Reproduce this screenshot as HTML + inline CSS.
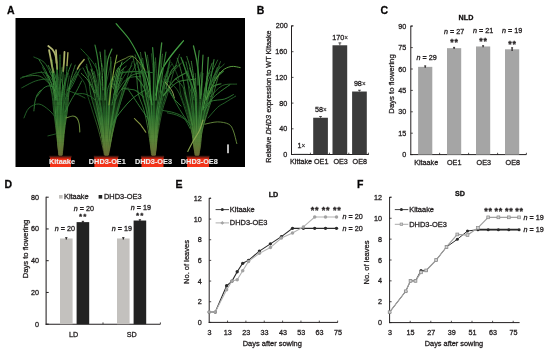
<!DOCTYPE html>
<html><head><meta charset="utf-8"><style>
html,body{margin:0;padding:0;background:#fff;}
body{width:550px;height:351px;overflow:hidden;}
svg{display:block;font-family:"Liberation Sans", sans-serif;filter:blur(0.35px);}
text{stroke:#231f20;stroke-width:0.3px;}
</style></head><body>
<svg width="550" height="351" viewBox="0 0 550 351">
<text x="7.00" y="13.60" font-size="10.5" text-anchor="start" font-weight="bold" fill="#000">A</text>
<text x="256.80" y="13.60" font-size="10.5" text-anchor="start" font-weight="bold" fill="#000">B</text>
<text x="380.60" y="14.00" font-size="10.5" text-anchor="start" font-weight="bold" fill="#000">C</text>
<text x="4.60" y="187.60" font-size="10.5" text-anchor="start" font-weight="bold" fill="#000">D</text>
<text x="175.60" y="187.60" font-size="10.5" text-anchor="start" font-weight="bold" fill="#000">E</text>
<text x="357.00" y="187.60" font-size="10.5" text-anchor="start" font-weight="bold" fill="#000">F</text>
<rect x="15.50" y="18.00" width="229.50" height="149.00" fill="#000"/>
<defs><linearGradient id="cg0" x1="0" y1="156" x2="0" y2="96" gradientUnits="userSpaceOnUse"><stop offset="0" stop-color="#6a6a34"/><stop offset="0.3" stop-color="#5a8a3a"/><stop offset="0.7" stop-color="#2c762f"/><stop offset="1" stop-color="#2c762f"/></linearGradient><linearGradient id="cg1" x1="0" y1="156" x2="0" y2="96" gradientUnits="userSpaceOnUse"><stop offset="0" stop-color="#6a6a34"/><stop offset="0.3" stop-color="#5a8a3a"/><stop offset="0.7" stop-color="#368237"/><stop offset="1" stop-color="#368237"/></linearGradient><linearGradient id="cg2" x1="0" y1="156" x2="0" y2="96" gradientUnits="userSpaceOnUse"><stop offset="0" stop-color="#6a6a34"/><stop offset="0.3" stop-color="#5a8a3a"/><stop offset="0.7" stop-color="#256629"/><stop offset="1" stop-color="#256629"/></linearGradient><linearGradient id="cg3" x1="0" y1="156" x2="0" y2="96" gradientUnits="userSpaceOnUse"><stop offset="0" stop-color="#6a6a34"/><stop offset="0.3" stop-color="#5a8a3a"/><stop offset="0.7" stop-color="#42903f"/><stop offset="1" stop-color="#42903f"/></linearGradient><linearGradient id="pg" x1="0" y1="46" x2="0" y2="74" gradientUnits="userSpaceOnUse"><stop offset="0" stop-color="#b8bb78"/><stop offset="0.6" stop-color="#a3ad60"/><stop offset="1" stop-color="#6f9444"/></linearGradient><linearGradient id="vg" x1="0" y1="156" x2="0" y2="85" gradientUnits="userSpaceOnUse"><stop offset="0" stop-color="#3e5a26" stop-opacity="0.95"/><stop offset="0.5" stop-color="#2a6428" stop-opacity="0.9"/><stop offset="1" stop-color="#17461a" stop-opacity="0"/></linearGradient><filter id="pb" x="0" y="0" width="1" height="1"><feGaussianBlur stdDeviation="0.35"/></filter></defs><g filter="url(#pb)"><path d="M59.1,156.0 L58.0,146.0 L56.6,130.0 L54.4,110.0 L52.4,90.0 L50.3,75.0 L70.7,75.0 L68.6,90.0 L66.6,110.0 L64.4,130.0 L63.0,146.0 L61.9,156.0 Z" fill="url(#vg)"/>
<path d="M105.0,156.0 L103.1,146.0 L100.1,130.0 L95.0,110.0 L89.5,90.0 L87.8,75.0 L125.2,75.0 L123.5,90.0 L118.0,110.0 L112.9,130.0 L109.9,146.0 L108.0,156.0 Z" fill="url(#vg)"/>
<path d="M152.1,156.0 L150.8,146.0 L148.8,126.0 L145.4,108.0 L139.9,90.0 L136.5,75.0 L170.5,75.0 L167.1,90.0 L161.6,108.0 L158.2,126.0 L156.2,146.0 L154.9,156.0 Z" fill="url(#vg)"/>
<path d="M195.5,156.0 L193.9,146.0 L191.6,126.0 L186.4,108.0 L180.8,90.0 L179.2,75.0 L214.8,75.0 L213.2,90.0 L207.6,108.0 L202.4,126.0 L200.1,146.0 L198.5,156.0 Z" fill="url(#vg)"/>
<path d="M58.9,155.0 C58.7,153.5 58.3,150.2 57.9,146.0 C57.4,141.8 56.8,136.0 56.1,130.0 C55.4,124.0 54.3,116.0 53.6,110.0 C52.9,104.0 52.7,98.9 51.9,94.0 C51.0,89.1 50.1,85.0 48.6,80.5 C47.0,76.0 43.5,69.2 42.5,67.0" fill="none" stroke="url(#cg0)" stroke-width="0.8339779458270995" stroke-linecap="round" stroke-linejoin="round" opacity="0.92"/>
<path d="M59.0,155.0 C58.9,153.5 58.5,150.2 58.1,146.0 C57.7,141.8 57.2,136.0 56.6,130.0 C55.9,124.0 54.9,116.0 54.3,110.0 C53.6,104.0 53.5,98.6 52.6,94.0 C51.6,89.4 50.6,86.4 48.7,82.6 C46.8,78.8 42.4,73.1 41.1,71.2" fill="none" stroke="url(#cg0)" stroke-width="0.7178653315506565" stroke-linecap="round" stroke-linejoin="round" opacity="0.92"/>
<path d="M59.1,155.0 C58.9,153.5 58.4,150.2 58.1,146.0 C57.7,141.8 57.6,136.0 57.2,130.0 C56.7,124.0 55.8,116.0 55.3,110.0 C54.8,104.0 54.9,98.5 54.2,94.0 C53.5,89.5 52.5,86.8 51.1,83.2 C49.8,79.5 46.8,74.1 45.9,72.3" fill="none" stroke="url(#cg3)" stroke-width="0.8964404917020267" stroke-linecap="round" stroke-linejoin="round" opacity="0.92"/>
<path d="M59.6,155.0 C59.5,153.5 59.5,150.2 59.2,146.0 C58.9,141.8 58.3,136.0 57.8,130.0 C57.4,124.0 56.9,116.0 56.5,110.0 C56.2,104.0 56.1,98.5 55.9,94.0 C55.6,89.5 55.7,86.7 55.1,83.1 C54.5,79.5 52.7,74.0 52.3,72.2" fill="none" stroke="url(#cg0)" stroke-width="0.9539750865643536" stroke-linecap="round" stroke-linejoin="round" opacity="0.92"/>
<path d="M60.1,155.0 C60.0,153.5 59.8,150.2 59.5,146.0 C59.3,141.8 58.8,136.0 58.4,130.0 C58.1,124.0 57.7,116.0 57.5,110.0 C57.3,104.0 57.7,98.5 57.2,94.0 C56.8,89.5 56.1,86.5 54.8,82.8 C53.5,79.0 50.4,73.4 49.5,71.5" fill="none" stroke="url(#cg1)" stroke-width="0.9335532576029952" stroke-linecap="round" stroke-linejoin="round" opacity="0.92"/>
<path d="M59.8,155.0 C59.8,153.5 59.6,150.2 59.6,146.0 C59.6,141.8 59.7,136.0 59.6,130.0 C59.4,124.0 59.0,116.0 58.8,110.0 C58.5,104.0 58.3,98.8 57.9,94.0 C57.5,89.2 56.6,85.3 56.5,81.0 C56.4,76.6 57.2,70.1 57.3,67.9" fill="none" stroke="url(#cg1)" stroke-width="0.9046232325418929" stroke-linecap="round" stroke-linejoin="round" opacity="0.92"/>
<path d="M60.3,155.0 C60.3,153.5 60.4,150.2 60.4,146.0 C60.4,141.8 60.2,136.0 60.1,130.0 C59.9,124.0 59.6,116.0 59.5,110.0 C59.4,104.0 59.6,98.6 59.2,94.0 C58.8,89.4 58.3,86.1 57.2,82.2 C56.1,78.2 53.5,72.3 52.7,70.3" fill="none" stroke="url(#cg2)" stroke-width="0.9993711156059767" stroke-linecap="round" stroke-linejoin="round" opacity="0.92"/>
<path d="M60.3,155.0 C60.4,153.5 60.7,150.2 60.7,146.0 C60.8,141.8 60.5,136.0 60.5,130.0 C60.4,124.0 60.5,116.0 60.4,110.0 C60.3,104.0 60.3,99.0 60.1,94.0 C59.8,89.0 59.3,84.8 58.7,80.2 C58.1,75.6 56.9,68.6 56.5,66.3" fill="none" stroke="url(#cg3)" stroke-width="0.7220195660165272" stroke-linecap="round" stroke-linejoin="round" opacity="0.92"/>
<path d="M60.8,155.0 C60.8,153.5 60.7,150.2 60.8,146.0 C60.8,141.8 61.1,136.0 61.2,130.0 C61.3,124.0 61.4,116.0 61.4,110.0 C61.5,104.0 61.5,97.9 61.7,94.0 C62.0,90.1 62.8,89.1 62.7,86.7 C62.7,84.2 61.7,80.6 61.5,79.3" fill="none" stroke="url(#cg1)" stroke-width="0.7932433863917523" stroke-linecap="round" stroke-linejoin="round" opacity="0.92"/>
<path d="M61.1,155.0 C61.2,153.5 61.5,150.2 61.6,146.0 C61.7,141.8 61.5,136.0 61.7,130.0 C61.9,124.0 62.6,116.0 62.8,110.0 C63.1,104.0 63.1,98.3 63.4,94.0 C63.6,89.7 64.1,87.7 64.3,84.5 C64.6,81.3 64.9,76.6 65.0,75.0" fill="none" stroke="url(#cg0)" stroke-width="0.7311519044094844" stroke-linecap="round" stroke-linejoin="round" opacity="0.92"/>
<path d="M61.5,155.0 C61.5,153.5 61.4,150.2 61.6,146.0 C61.8,141.8 62.3,136.0 62.6,130.0 C62.9,124.0 63.1,116.0 63.4,110.0 C63.7,104.0 64.3,98.4 64.5,94.0 C64.8,89.6 64.4,87.2 65.1,83.8 C65.7,80.4 68.0,75.2 68.5,73.5" fill="none" stroke="url(#cg0)" stroke-width="0.7379200523236311" stroke-linecap="round" stroke-linejoin="round" opacity="0.92"/>
<path d="M61.7,155.0 C61.9,153.5 62.3,150.2 62.5,146.0 C62.8,141.8 62.8,136.0 63.3,130.0 C63.7,124.0 64.5,116.0 65.0,110.0 C65.6,104.0 66.2,98.2 66.7,94.0 C67.1,89.8 67.2,88.0 67.6,85.0 C68.1,82.0 69.0,77.5 69.2,76.0" fill="none" stroke="url(#cg0)" stroke-width="0.7528761326118452" stroke-linecap="round" stroke-linejoin="round" opacity="0.92"/>
<path d="M61.9,155.0 C62.0,153.5 62.3,150.2 62.6,146.0 C63.0,141.8 63.4,136.0 64.0,130.0 C64.6,124.0 65.7,116.0 66.3,110.0 C67.0,104.0 67.0,98.3 67.8,94.0 C68.7,89.7 70.0,87.5 71.5,84.3 C73.0,81.0 75.9,76.1 76.8,74.5" fill="none" stroke="url(#cg0)" stroke-width="0.977076210121574" stroke-linecap="round" stroke-linejoin="round" opacity="0.92"/>
<path d="M62.1,155.0 C62.3,153.5 62.8,150.2 63.2,146.0 C63.6,141.8 63.9,136.0 64.6,130.0 C65.3,124.0 66.7,116.0 67.4,110.0 C68.1,104.0 68.2,99.1 68.8,94.0 C69.4,88.9 69.7,84.4 70.8,79.5 C71.8,74.7 74.5,67.5 75.2,65.1" fill="none" stroke="url(#cg3)" stroke-width="0.8638286077255961" stroke-linecap="round" stroke-linejoin="round" opacity="0.92"/>
<path d="M63.7,98.8 C65.0,95.9 68.4,86.5 71.3,81.5 C74.2,76.4 79.4,70.8 81.0,68.7" fill="none" stroke="#245f28" stroke-width="0.7339707275782404" stroke-linecap="round" stroke-linejoin="round" opacity="0.9"/>
<path d="M60.1,88.9 C60.2,87.1 60.6,81.2 61.0,77.7 C61.3,74.1 61.9,69.2 62.1,67.6" fill="none" stroke="#2c742f" stroke-width="0.9499842186637677" stroke-linecap="round" stroke-linejoin="round" opacity="0.9"/>
<path d="M58.8,95.0 C58.0,92.2 55.9,83.2 54.2,78.2 C52.4,73.3 49.2,67.5 48.2,65.4" fill="none" stroke="#3e8a3c" stroke-width="0.9912828306262191" stroke-linecap="round" stroke-linejoin="round" opacity="0.9"/>
<path d="M58.9,96.8 C58.4,93.6 57.1,82.9 55.9,77.7 C54.7,72.5 52.6,67.7 52.0,65.8" fill="none" stroke="#2c742f" stroke-width="0.8240939962902226" stroke-linecap="round" stroke-linejoin="round" opacity="0.9"/>
<path d="M54.0,88.3 C51.6,86.3 44.9,78.1 39.6,76.2 C34.4,74.3 25.5,76.8 22.6,76.9" fill="none" stroke="#3e8a3c" stroke-width="0.8023320880425526" stroke-linecap="round" stroke-linejoin="round" opacity="0.9"/>
<path d="M104.3,155.0 C104.0,153.5 103.4,150.2 102.4,146.0 C101.5,141.8 100.2,136.0 98.5,130.0 C96.8,124.0 94.1,116.0 92.2,110.0 C90.3,104.0 88.5,98.5 87.2,94.0 C85.9,89.5 86.2,86.7 84.5,83.1 C82.7,79.5 77.8,74.0 76.5,72.2" fill="none" stroke="url(#cg2)" stroke-width="0.7595517336595947" stroke-linecap="round" stroke-linejoin="round" opacity="0.92"/>
<path d="M105.0,155.0 C104.7,153.5 104.1,150.2 103.3,146.0 C102.6,141.8 101.7,136.0 100.3,130.0 C98.9,124.0 96.6,116.0 94.9,110.0 C93.3,104.0 91.6,99.1 90.6,94.0 C89.6,88.9 89.5,84.1 88.9,79.1 C88.2,74.2 87.0,66.8 86.6,64.3" fill="none" stroke="url(#cg0)" stroke-width="0.9133653284552821" stroke-linecap="round" stroke-linejoin="round" opacity="0.92"/>
<path d="M105.1,155.0 C104.8,153.5 104.3,150.2 103.7,146.0 C103.2,141.8 102.7,136.0 101.7,130.0 C100.7,124.0 98.9,116.0 97.7,110.0 C96.5,104.0 95.4,99.0 94.3,94.0 C93.3,89.0 93.0,84.8 91.6,80.3 C90.2,75.7 87.0,68.8 86.0,66.5" fill="none" stroke="url(#cg3)" stroke-width="0.7961038643300813" stroke-linecap="round" stroke-linejoin="round" opacity="0.92"/>
<path d="M105.3,155.0 C105.1,153.5 104.8,150.2 104.4,146.0 C103.9,141.8 103.4,136.0 102.5,130.0 C101.6,124.0 100.0,116.0 98.9,110.0 C97.9,104.0 96.9,98.5 96.1,94.0 C95.3,89.5 95.3,86.6 94.2,83.0 C93.1,79.3 90.3,73.8 89.5,71.9" fill="none" stroke="url(#cg1)" stroke-width="0.7074179524985249" stroke-linecap="round" stroke-linejoin="round" opacity="0.92"/>
<path d="M105.5,155.0 C105.3,153.5 104.9,150.2 104.5,146.0 C104.1,141.8 103.6,136.0 102.9,130.0 C102.3,124.0 101.4,116.0 100.6,110.0 C99.9,104.0 98.9,98.5 98.2,94.0 C97.6,89.5 97.6,86.5 96.9,82.7 C96.2,79.0 94.6,73.4 94.1,71.5" fill="none" stroke="url(#cg1)" stroke-width="0.7598024267491053" stroke-linecap="round" stroke-linejoin="round" opacity="0.92"/>
<path d="M105.5,155.0 C105.4,153.5 105.0,150.2 104.6,146.0 C104.3,141.8 104.1,136.0 103.5,130.0 C103.0,124.0 102.1,116.0 101.3,110.0 C100.5,104.0 99.4,99.2 98.9,94.0 C98.4,88.8 98.7,83.8 98.1,78.6 C97.6,73.5 96.0,65.8 95.6,63.3" fill="none" stroke="url(#cg1)" stroke-width="0.8180548634724956" stroke-linecap="round" stroke-linejoin="round" opacity="0.92"/>
<path d="M106.3,155.0 C106.1,153.5 105.6,150.2 105.4,146.0 C105.2,141.8 105.4,136.0 105.1,130.0 C104.8,124.0 104.1,116.0 103.6,110.0 C103.1,104.0 102.4,98.9 102.1,94.0 C101.8,89.1 102.5,85.1 102.0,80.7 C101.4,76.3 99.5,69.6 99.0,67.4" fill="none" stroke="url(#cg2)" stroke-width="0.8391123197819306" stroke-linecap="round" stroke-linejoin="round" opacity="0.92"/>
<path d="M106.0,155.0 C106.0,153.5 106.1,150.2 106.1,146.0 C106.0,141.8 105.9,136.0 105.6,130.0 C105.4,124.0 105.0,116.0 104.7,110.0 C104.4,104.0 103.6,99.3 104.0,94.0 C104.5,88.7 106.3,83.3 107.5,78.0 C108.7,72.6 110.6,64.6 111.3,61.9" fill="none" stroke="url(#cg2)" stroke-width="0.7785649461522468" stroke-linecap="round" stroke-linejoin="round" opacity="0.92"/>
<path d="M106.2,155.0 C106.2,153.5 106.5,150.2 106.4,146.0 C106.4,141.8 106.2,136.0 106.1,130.0 C106.1,124.0 106.2,116.0 106.2,110.0 C106.2,104.0 106.3,99.2 106.2,94.0 C106.1,88.8 106.2,83.8 105.4,78.7 C104.7,73.6 102.4,65.9 101.7,63.3" fill="none" stroke="url(#cg0)" stroke-width="0.7518688921625658" stroke-linecap="round" stroke-linejoin="round" opacity="0.92"/>
<path d="M106.7,155.0 C106.7,153.5 106.4,150.2 106.4,146.0 C106.3,141.8 106.4,136.0 106.5,130.0 C106.5,124.0 106.7,116.0 106.8,110.0 C106.9,104.0 106.7,98.1 107.1,94.0 C107.5,89.9 107.9,88.1 109.0,85.2 C110.1,82.2 113.1,77.8 113.9,76.3" fill="none" stroke="url(#cg0)" stroke-width="0.9273517524184602" stroke-linecap="round" stroke-linejoin="round" opacity="0.92"/>
<path d="M106.9,155.0 C106.9,153.5 107.2,150.2 107.3,146.0 C107.5,141.8 107.5,136.0 107.7,130.0 C107.9,124.0 108.1,116.0 108.4,110.0 C108.7,104.0 109.1,98.0 109.4,94.0 C109.7,90.0 109.8,88.6 110.2,85.9 C110.6,83.2 111.7,79.2 112.0,77.9" fill="none" stroke="url(#cg1)" stroke-width="0.7913368072750521" stroke-linecap="round" stroke-linejoin="round" opacity="0.92"/>
<path d="M107.0,155.0 C107.0,153.5 107.0,150.2 107.2,146.0 C107.4,141.8 107.7,136.0 108.1,130.0 C108.4,124.0 108.9,116.0 109.3,110.0 C109.7,104.0 109.9,99.7 110.2,94.0 C110.5,88.3 110.9,81.7 111.0,75.6 C111.0,69.4 110.8,60.2 110.7,57.1" fill="none" stroke="url(#cg3)" stroke-width="0.8631990249478859" stroke-linecap="round" stroke-linejoin="round" opacity="0.92"/>
<path d="M107.3,155.0 C107.4,153.5 107.7,150.2 108.2,146.0 C108.6,141.8 109.1,136.0 109.9,130.0 C110.8,124.0 112.4,116.0 113.3,110.0 C114.2,104.0 114.8,98.0 115.5,94.0 C116.3,90.0 116.7,88.7 117.8,86.1 C118.8,83.5 121.0,79.5 121.7,78.2" fill="none" stroke="url(#cg3)" stroke-width="0.7380902767323273" stroke-linecap="round" stroke-linejoin="round" opacity="0.92"/>
<path d="M107.7,155.0 C107.9,153.5 108.3,150.2 108.7,146.0 C109.1,141.8 109.4,136.0 110.2,130.0 C110.9,124.0 112.1,116.0 113.0,110.0 C113.9,104.0 114.7,98.6 115.5,94.0 C116.2,89.4 116.0,86.4 117.5,82.6 C118.9,78.8 123.0,73.1 124.1,71.2" fill="none" stroke="url(#cg0)" stroke-width="0.710687456713855" stroke-linecap="round" stroke-linejoin="round" opacity="0.92"/>
<path d="M107.3,155.0 C107.5,153.5 108.0,150.2 108.6,146.0 C109.1,141.8 109.9,136.0 110.8,130.0 C111.6,124.0 112.8,116.0 113.8,110.0 C114.8,104.0 115.8,98.8 116.8,94.0 C117.8,89.2 118.6,85.5 119.7,81.2 C120.8,77.0 122.9,70.6 123.5,68.5" fill="none" stroke="url(#cg1)" stroke-width="0.9104102683000681" stroke-linecap="round" stroke-linejoin="round" opacity="0.92"/>
<path d="M107.8,155.0 C108.2,153.5 109.0,150.2 109.8,146.0 C110.6,141.8 111.4,136.0 112.7,130.0 C113.9,124.0 115.9,116.0 117.3,110.0 C118.8,104.0 120.4,98.1 121.5,94.0 C122.6,89.9 122.6,88.3 124.0,85.4 C125.3,82.6 128.4,78.3 129.3,76.9" fill="none" stroke="url(#cg1)" stroke-width="0.7697975179139305" stroke-linecap="round" stroke-linejoin="round" opacity="0.92"/>
<path d="M108.5,155.0 C108.8,153.5 109.5,150.2 110.3,146.0 C111.0,141.8 111.7,136.0 113.0,130.0 C114.4,124.0 116.6,116.0 118.3,110.0 C120.0,104.0 121.5,99.3 123.3,94.0 C125.1,88.7 127.0,83.3 129.3,78.0 C131.6,72.7 135.8,64.7 137.1,62.0" fill="none" stroke="url(#cg1)" stroke-width="0.7397624650446545" stroke-linecap="round" stroke-linejoin="round" opacity="0.92"/>
<path d="M108.2,155.0 C108.5,153.5 109.1,150.2 109.9,146.0 C110.8,141.8 111.9,136.0 113.3,130.0 C114.7,124.0 116.7,116.0 118.3,110.0 C119.9,104.0 121.4,99.4 122.9,94.0 C124.4,88.6 125.7,83.2 127.2,77.8 C128.8,72.4 131.5,64.3 132.3,61.6" fill="none" stroke="url(#cg2)" stroke-width="0.9734118919543342" stroke-linecap="round" stroke-linejoin="round" opacity="0.92"/>
<path d="M121.5,89.4 C123.1,87.2 127.3,79.0 130.7,76.2 C134.1,73.4 140.2,73.2 142.1,72.6" fill="none" stroke="#357f36" stroke-width="1.0211374910788302" stroke-linecap="round" stroke-linejoin="round" opacity="0.9"/>
<path d="M105.9,88.3 C105.9,84.9 106.0,73.6 106.0,68.2 C106.0,62.9 106.1,58.0 106.1,55.9" fill="none" stroke="#2c742f" stroke-width="0.7815656071081508" stroke-linecap="round" stroke-linejoin="round" opacity="0.9"/>
<path d="M115.6,99.9 C116.6,98.2 119.1,91.6 121.2,89.7 C123.3,87.7 127.1,88.4 128.3,88.2" fill="none" stroke="#3e8a3c" stroke-width="0.7310422681710733" stroke-linecap="round" stroke-linejoin="round" opacity="0.9"/>
<path d="M94.2,92.7 C93.2,90.7 90.6,84.1 88.4,80.9 C86.3,77.7 82.4,74.7 81.2,73.4" fill="none" stroke="#4a9442" stroke-width="0.9804120363023211" stroke-linecap="round" stroke-linejoin="round" opacity="0.9"/>
<path d="M117.5,90.2 C118.5,87.9 121.4,80.6 123.8,76.5 C126.2,72.5 130.5,67.6 131.8,65.8" fill="none" stroke="#357f36" stroke-width="0.7379206613080525" stroke-linecap="round" stroke-linejoin="round" opacity="0.9"/>
<path d="M115.6,91.9 C116.3,88.7 118.4,76.9 120.2,72.7 C122.0,68.4 125.2,67.5 126.2,66.4" fill="none" stroke="#3e8a3c" stroke-width="0.9278735834348355" stroke-linecap="round" stroke-linejoin="round" opacity="0.9"/>
<path d="M97.4,95.0 C97.0,92.8 95.7,85.8 94.7,81.5 C93.6,77.2 91.7,71.3 91.1,69.3" fill="none" stroke="#4a9442" stroke-width="1.011195192217937" stroke-linecap="round" stroke-linejoin="round" opacity="0.9"/>
<path d="M116.1,92.9 C117.9,90.5 123.0,81.4 127.1,78.7 C131.2,76.0 138.4,76.9 140.7,76.6" fill="none" stroke="#357f36" stroke-width="0.8622982031310462" stroke-linecap="round" stroke-linejoin="round" opacity="0.9"/>
<path d="M113.7,88.8 C114.0,87.0 115.0,81.4 115.8,77.9 C116.6,74.5 118.0,69.6 118.5,68.0" fill="none" stroke="#4a9442" stroke-width="1.0610818494082102" stroke-linecap="round" stroke-linejoin="round" opacity="0.9"/>
<path d="M151.5,155.0 C151.4,153.5 151.0,150.2 150.5,146.0 C149.9,141.8 149.2,136.0 148.2,130.0 C147.1,124.0 145.6,116.0 144.0,110.0 C142.3,104.0 139.6,99.7 138.4,94.0 C137.1,88.3 137.4,81.7 136.5,75.5 C135.6,69.4 133.6,60.2 133.0,57.1" fill="none" stroke="url(#cg1)" stroke-width="0.9103752086749906" stroke-linecap="round" stroke-linejoin="round" opacity="0.92"/>
<path d="M152.4,155.0 C152.1,153.5 151.2,150.2 150.7,146.0 C150.2,141.8 150.3,136.0 149.6,130.0 C148.9,124.0 147.8,116.0 146.5,110.0 C145.2,104.0 143.0,99.2 141.9,94.0 C140.8,88.8 140.6,83.7 139.9,78.6 C139.2,73.5 138.1,65.8 137.7,63.2" fill="none" stroke="url(#cg0)" stroke-width="0.7775672836249041" stroke-linecap="round" stroke-linejoin="round" opacity="0.92"/>
<path d="M152.1,155.0 C151.9,153.5 151.5,150.2 151.1,146.0 C150.7,141.8 150.3,136.0 149.6,130.0 C148.8,124.0 147.7,116.0 146.5,110.0 C145.4,104.0 143.6,99.9 142.5,94.0 C141.4,88.1 141.4,80.9 140.2,74.4 C138.9,67.9 135.9,58.1 135.1,54.8" fill="none" stroke="url(#cg0)" stroke-width="0.815926910780714" stroke-linecap="round" stroke-linejoin="round" opacity="0.92"/>
<path d="M152.5,155.0 C152.4,153.5 152.3,150.2 152.1,146.0 C151.8,141.8 151.6,136.0 151.0,130.0 C150.5,124.0 149.6,116.0 148.7,110.0 C147.8,104.0 146.7,99.2 145.8,94.0 C144.9,88.8 144.4,84.0 143.4,79.0 C142.5,74.0 140.5,66.5 140.0,64.0" fill="none" stroke="url(#cg2)" stroke-width="0.8096725997263372" stroke-linecap="round" stroke-linejoin="round" opacity="0.92"/>
<path d="M152.6,155.0 C152.5,153.5 152.1,150.2 151.8,146.0 C151.5,141.8 151.1,136.0 150.6,130.0 C150.1,124.0 149.6,116.0 148.7,110.0 C147.8,104.0 146.4,100.1 145.5,94.0 C144.5,87.9 144.0,80.1 143.2,73.2 C142.3,66.3 140.9,55.9 140.5,52.4" fill="none" stroke="url(#cg3)" stroke-width="0.7158374359403746" stroke-linecap="round" stroke-linejoin="round" opacity="0.92"/>
<path d="M152.7,155.0 C152.6,153.5 152.4,150.2 152.2,146.0 C152.0,141.8 151.9,136.0 151.5,130.0 C151.0,124.0 150.2,116.0 149.5,110.0 C148.9,104.0 148.2,99.6 147.5,94.0 C146.7,88.4 145.8,82.1 145.0,76.1 C144.2,70.2 143.0,61.2 142.6,58.3" fill="none" stroke="url(#cg0)" stroke-width="0.8570078323002299" stroke-linecap="round" stroke-linejoin="round" opacity="0.92"/>
<path d="M153.3,155.0 C153.2,153.5 152.9,150.2 152.9,146.0 C152.8,141.8 153.0,136.0 152.8,130.0 C152.6,124.0 152.3,116.0 151.9,110.0 C151.6,104.0 151.1,99.9 150.7,94.0 C150.3,88.1 150.3,81.1 149.8,74.6 C149.2,68.1 147.8,58.5 147.4,55.2" fill="none" stroke="url(#cg0)" stroke-width="0.8070091214659059" stroke-linecap="round" stroke-linejoin="round" opacity="0.92"/>
<path d="M153.0,155.0 C152.9,153.5 152.7,150.2 152.5,146.0 C152.4,141.8 152.5,136.0 152.3,130.0 C152.1,124.0 151.8,116.0 151.4,110.0 C151.1,104.0 150.4,98.6 150.2,94.0 C149.9,89.4 150.1,86.4 150.0,82.5 C149.8,78.7 149.2,73.0 149.1,71.1" fill="none" stroke="url(#cg1)" stroke-width="0.9857904977130795" stroke-linecap="round" stroke-linejoin="round" opacity="0.92"/>
<path d="M153.3,155.0 C153.3,153.5 153.2,150.2 153.2,146.0 C153.3,141.8 153.6,136.0 153.7,130.0 C153.7,124.0 153.6,116.0 153.6,110.0 C153.5,104.0 153.3,99.3 153.4,94.0 C153.5,88.7 153.7,83.4 154.0,78.0 C154.3,72.7 154.9,64.7 155.0,62.1" fill="none" stroke="url(#cg2)" stroke-width="0.9260048789667399" stroke-linecap="round" stroke-linejoin="round" opacity="0.92"/>
<path d="M153.3,155.0 C153.4,153.5 153.7,150.2 153.8,146.0 C153.8,141.8 153.7,136.0 153.7,130.0 C153.7,124.0 153.8,116.0 153.7,110.0 C153.6,104.0 153.3,100.0 153.2,94.0 C153.1,88.0 153.5,80.6 153.2,73.9 C152.9,67.1 151.7,57.1 151.4,53.7" fill="none" stroke="url(#cg2)" stroke-width="0.7217478508259091" stroke-linecap="round" stroke-linejoin="round" opacity="0.92"/>
<path d="M153.8,155.0 C153.8,153.5 153.8,150.2 153.8,146.0 C153.9,141.8 154.0,136.0 154.0,130.0 C154.1,124.0 154.1,116.0 154.2,110.0 C154.4,104.0 154.5,99.7 154.8,94.0 C155.1,88.3 156.0,82.0 156.2,75.9 C156.3,69.9 155.6,60.9 155.5,57.9" fill="none" stroke="url(#cg0)" stroke-width="0.8341928678956247" stroke-linecap="round" stroke-linejoin="round" opacity="0.92"/>
<path d="M154.3,155.0 C154.4,153.5 154.6,150.2 154.8,146.0 C154.9,141.8 154.9,136.0 155.2,130.0 C155.5,124.0 156.2,116.0 156.7,110.0 C157.3,104.0 157.9,99.8 158.4,94.0 C158.9,88.2 159.4,81.4 159.8,75.1 C160.2,68.8 160.6,59.4 160.8,56.2" fill="none" stroke="url(#cg2)" stroke-width="0.8645840415931905" stroke-linecap="round" stroke-linejoin="round" opacity="0.92"/>
<path d="M154.5,155.0 C154.6,153.5 154.7,150.2 154.9,146.0 C155.0,141.8 155.2,136.0 155.6,130.0 C156.0,124.0 156.5,116.0 157.2,110.0 C158.0,104.0 159.5,100.0 160.1,94.0 C160.7,88.0 160.7,80.7 161.0,74.1 C161.4,67.5 162.1,57.5 162.4,54.2" fill="none" stroke="url(#cg3)" stroke-width="0.7896612021852201" stroke-linecap="round" stroke-linejoin="round" opacity="0.92"/>
<path d="M154.2,155.0 C154.4,153.5 154.7,150.2 155.1,146.0 C155.5,141.8 155.9,136.0 156.4,130.0 C156.9,124.0 157.4,116.0 158.3,110.0 C159.1,104.0 160.6,98.5 161.5,94.0 C162.3,89.5 162.5,86.8 163.6,83.1 C164.6,79.5 166.9,74.1 167.6,72.3" fill="none" stroke="url(#cg2)" stroke-width="0.8971789495482496" stroke-linecap="round" stroke-linejoin="round" opacity="0.92"/>
<path d="M154.8,155.0 C154.8,153.5 155.0,150.2 155.3,146.0 C155.5,141.8 155.8,136.0 156.4,130.0 C157.0,124.0 157.9,116.0 158.8,110.0 C159.8,104.0 161.4,98.6 162.2,94.0 C163.0,89.4 162.9,86.4 163.8,82.6 C164.8,78.8 167.5,73.1 168.2,71.2" fill="none" stroke="url(#cg3)" stroke-width="0.7952857730266751" stroke-linecap="round" stroke-linejoin="round" opacity="0.92"/>
<path d="M155.0,155.0 C155.2,153.5 155.7,150.2 156.0,146.0 C156.3,141.8 156.3,136.0 156.9,130.0 C157.6,124.0 158.7,116.0 159.8,110.0 C161.0,104.0 162.7,99.3 163.7,94.0 C164.7,88.7 164.8,83.4 165.8,78.1 C166.7,72.8 168.7,64.8 169.3,62.2" fill="none" stroke="url(#cg2)" stroke-width="0.9391248465856445" stroke-linecap="round" stroke-linejoin="round" opacity="0.92"/>
<path d="M155.2,155.0 C155.4,153.5 155.8,150.2 156.2,146.0 C156.6,141.8 156.7,136.0 157.6,130.0 C158.4,124.0 159.9,116.0 161.3,110.0 C162.7,104.0 165.0,99.5 166.0,94.0 C167.1,88.5 166.7,82.6 167.4,76.9 C168.1,71.3 169.5,62.7 170.0,59.9" fill="none" stroke="url(#cg2)" stroke-width="0.9899248160921191" stroke-linecap="round" stroke-linejoin="round" opacity="0.92"/>
<path d="M155.4,155.0 C155.6,153.5 155.9,150.2 156.4,146.0 C156.9,141.8 157.4,136.0 158.5,130.0 C159.5,124.0 161.0,116.0 162.5,110.0 C164.0,104.0 165.8,100.0 167.5,94.0 C169.2,88.0 170.9,80.8 172.9,74.1 C174.9,67.5 178.4,57.6 179.5,54.3" fill="none" stroke="url(#cg1)" stroke-width="0.7292348259965885" stroke-linecap="round" stroke-linejoin="round" opacity="0.92"/>
<path d="M161.0,93.1 C162.5,90.1 166.6,80.1 170.0,75.1 C173.3,70.1 179.4,65.2 181.3,63.3" fill="none" stroke="#3e8a3c" stroke-width="0.8577530305100692" stroke-linecap="round" stroke-linejoin="round" opacity="0.9"/>
<path d="M150.2,99.6 C149.6,97.0 147.9,88.5 146.5,83.7 C145.1,78.8 142.5,72.6 141.7,70.4" fill="none" stroke="#4a9442" stroke-width="0.9472633448689486" stroke-linecap="round" stroke-linejoin="round" opacity="0.9"/>
<path d="M143.7,97.1 C142.3,95.9 138.2,91.6 135.1,90.2 C131.9,88.9 126.6,89.1 124.9,88.9" fill="none" stroke="#2c742f" stroke-width="1.0554587735672558" stroke-linecap="round" stroke-linejoin="round" opacity="0.9"/>
<path d="M163.7,95.7 C165.5,93.1 170.4,83.9 174.4,79.9 C178.4,76.0 185.5,73.3 187.7,71.9" fill="none" stroke="#3e8a3c" stroke-width="1.0662249807899875" stroke-linecap="round" stroke-linejoin="round" opacity="0.9"/>
<path d="M147.0,89.9 C146.3,87.7 144.5,80.2 142.9,76.3 C141.4,72.5 138.5,68.6 137.7,67.0" fill="none" stroke="#2f7431" stroke-width="0.8168097504199745" stroke-linecap="round" stroke-linejoin="round" opacity="0.9"/>
<path d="M165.8,88.7 C166.6,85.9 168.8,75.9 170.7,71.9 C172.6,68.0 175.9,66.3 177.0,65.1" fill="none" stroke="#357f36" stroke-width="1.0648782314728038" stroke-linecap="round" stroke-linejoin="round" opacity="0.9"/>
<path d="M160.2,88.2 C161.0,86.0 163.3,79.0 165.2,75.0 C167.1,71.0 170.6,66.2 171.6,64.4" fill="none" stroke="#245f28" stroke-width="0.7869457351814232" stroke-linecap="round" stroke-linejoin="round" opacity="0.9"/>
<path d="M147.7,96.6 C146.9,94.6 144.5,88.2 142.5,84.9 C140.6,81.5 137.0,77.8 135.9,76.4" fill="none" stroke="#357f36" stroke-width="1.0642712824270246" stroke-linecap="round" stroke-linejoin="round" opacity="0.9"/>
<path d="M163.3,95.5 C165.7,93.3 172.3,84.8 177.5,82.1 C182.7,79.4 191.7,79.6 194.5,79.2" fill="none" stroke="#3e8a3c" stroke-width="1.0657012014260787" stroke-linecap="round" stroke-linejoin="round" opacity="0.9"/>
<path d="M195.1,155.0 C194.9,153.5 194.4,150.2 193.7,146.0 C193.1,141.8 192.8,136.0 191.3,130.0 C189.9,124.0 187.2,116.0 185.3,110.0 C183.3,104.0 181.3,97.9 179.5,94.0 C177.7,90.1 176.7,88.9 174.4,86.4 C172.1,83.9 167.0,80.1 165.6,78.8" fill="none" stroke="url(#cg2)" stroke-width="0.9363034903785117" stroke-linecap="round" stroke-linejoin="round" opacity="0.92"/>
<path d="M195.4,155.0 C195.2,153.5 194.5,150.2 193.9,146.0 C193.3,141.8 193.2,136.0 191.9,130.0 C190.7,124.0 188.2,116.0 186.4,110.0 C184.5,104.0 182.1,99.3 180.8,94.0 C179.5,88.7 180.0,83.6 178.5,78.3 C176.9,73.1 172.9,65.3 171.7,62.7" fill="none" stroke="url(#cg2)" stroke-width="0.743421692235969" stroke-linecap="round" stroke-linejoin="round" opacity="0.92"/>
<path d="M195.9,155.0 C195.7,153.5 194.9,150.2 194.4,146.0 C194.0,141.8 194.2,136.0 193.4,130.0 C192.6,124.0 190.7,116.0 189.4,110.0 C188.1,104.0 186.8,99.6 185.6,94.0 C184.4,88.4 183.8,82.1 182.4,76.1 C181.0,70.1 178.2,61.2 177.3,58.2" fill="none" stroke="url(#cg1)" stroke-width="0.9466265196988323" stroke-linecap="round" stroke-linejoin="round" opacity="0.92"/>
<path d="M195.5,155.0 C195.3,153.5 195.1,150.2 194.6,146.0 C194.2,141.8 193.7,136.0 192.8,130.0 C191.8,124.0 190.1,116.0 188.8,110.0 C187.5,104.0 185.8,97.9 184.8,94.0 C183.8,90.1 184.1,89.0 182.7,86.5 C181.2,84.0 177.2,80.2 176.1,79.0" fill="none" stroke="url(#cg1)" stroke-width="0.8250911500895107" stroke-linecap="round" stroke-linejoin="round" opacity="0.92"/>
<path d="M195.9,155.0 C195.9,153.5 195.9,150.2 195.7,146.0 C195.4,141.8 195.0,136.0 194.4,130.0 C193.8,124.0 192.8,116.0 192.0,110.0 C191.2,104.0 190.4,99.4 189.6,94.0 C188.7,88.6 188.1,82.9 187.0,77.3 C185.9,71.7 183.5,63.4 182.8,60.6" fill="none" stroke="url(#cg0)" stroke-width="0.8669172115006328" stroke-linecap="round" stroke-linejoin="round" opacity="0.92"/>
<path d="M196.5,155.0 C196.4,153.5 195.9,150.2 195.7,146.0 C195.4,141.8 195.4,136.0 195.0,130.0 C194.6,124.0 193.8,116.0 193.3,110.0 C192.8,104.0 192.3,98.5 191.9,94.0 C191.5,89.5 191.9,86.8 191.0,83.3 C190.2,79.7 187.4,74.3 186.7,72.5" fill="none" stroke="url(#cg3)" stroke-width="0.7037044566802955" stroke-linecap="round" stroke-linejoin="round" opacity="0.92"/>
<path d="M196.5,155.0 C196.4,153.5 196.0,150.2 195.8,146.0 C195.5,141.8 195.7,136.0 195.3,130.0 C194.9,124.0 194.0,116.0 193.4,110.0 C192.7,104.0 192.1,97.8 191.4,94.0 C190.7,90.2 190.0,89.3 189.3,86.9 C188.6,84.5 187.7,81.0 187.4,79.8" fill="none" stroke="url(#cg2)" stroke-width="0.8883315616309391" stroke-linecap="round" stroke-linejoin="round" opacity="0.92"/>
<path d="M197.0,155.0 C197.0,153.5 197.0,150.2 197.0,146.0 C196.9,141.8 196.8,136.0 196.7,130.0 C196.5,124.0 196.3,116.0 196.0,110.0 C195.8,104.0 195.7,99.4 195.3,94.0 C194.9,88.6 194.4,83.1 193.7,77.7 C193.1,72.2 191.7,64.1 191.3,61.3" fill="none" stroke="url(#cg3)" stroke-width="0.9171376130886217" stroke-linecap="round" stroke-linejoin="round" opacity="0.92"/>
<path d="M197.0,155.0 C196.9,153.5 196.6,150.2 196.4,146.0 C196.3,141.8 196.4,136.0 196.3,130.0 C196.2,124.0 195.8,116.0 195.7,110.0 C195.6,104.0 195.5,98.4 195.6,94.0 C195.6,89.6 196.1,87.1 196.0,83.6 C196.0,80.2 195.4,75.0 195.2,73.3" fill="none" stroke="url(#cg0)" stroke-width="0.7301296455262221" stroke-linecap="round" stroke-linejoin="round" opacity="0.92"/>
<path d="M197.2,155.0 C197.2,153.5 196.9,150.2 196.8,146.0 C196.8,141.8 197.0,136.0 197.0,130.0 C196.9,124.0 196.6,116.0 196.5,110.0 C196.5,104.0 196.8,98.0 196.6,94.0 C196.4,90.0 195.5,88.8 195.3,86.2 C195.1,83.5 195.5,79.6 195.5,78.3" fill="none" stroke="url(#cg3)" stroke-width="0.7994231535225912" stroke-linecap="round" stroke-linejoin="round" opacity="0.92"/>
<path d="M197.0,155.0 C197.1,153.5 197.3,150.2 197.5,146.0 C197.6,141.8 197.7,136.0 198.0,130.0 C198.3,124.0 198.8,116.0 199.1,110.0 C199.4,104.0 199.8,98.5 199.8,94.0 C199.9,89.5 199.3,86.7 199.5,83.1 C199.7,79.5 200.8,74.0 201.1,72.2" fill="none" stroke="url(#cg2)" stroke-width="0.7920334234477333" stroke-linecap="round" stroke-linejoin="round" opacity="0.92"/>
<path d="M197.6,155.0 C197.6,153.5 197.6,150.2 197.8,146.0 C197.9,141.8 198.1,136.0 198.4,130.0 C198.8,124.0 199.5,116.0 200.0,110.0 C200.5,104.0 201.1,98.4 201.5,94.0 C201.8,89.6 202.0,87.1 202.2,83.7 C202.5,80.3 202.8,75.1 202.9,73.4" fill="none" stroke="url(#cg1)" stroke-width="0.8057682825893453" stroke-linecap="round" stroke-linejoin="round" opacity="0.92"/>
<path d="M197.6,155.0 C197.7,153.5 198.2,150.2 198.5,146.0 C198.9,141.8 199.0,136.0 199.5,130.0 C200.1,124.0 200.9,116.0 201.6,110.0 C202.4,104.0 203.3,98.1 204.0,94.0 C204.7,89.9 205.3,88.1 205.8,85.1 C206.3,82.1 206.8,77.7 207.0,76.2" fill="none" stroke="url(#cg1)" stroke-width="0.9329842993987463" stroke-linecap="round" stroke-linejoin="round" opacity="0.92"/>
<path d="M197.8,155.0 C198.0,153.5 198.3,150.2 198.5,146.0 C198.8,141.8 198.8,136.0 199.4,130.0 C200.0,124.0 201.0,116.0 201.9,110.0 C202.8,104.0 204.0,99.2 204.8,94.0 C205.7,88.8 205.9,83.7 207.1,78.6 C208.3,73.4 211.3,65.7 212.2,63.1" fill="none" stroke="url(#cg1)" stroke-width="0.9712171984523332" stroke-linecap="round" stroke-linejoin="round" opacity="0.92"/>
<path d="M198.3,155.0 C198.4,153.5 198.9,150.2 199.3,146.0 C199.6,141.8 199.6,136.0 200.4,130.0 C201.3,124.0 203.3,116.0 204.6,110.0 C205.9,104.0 207.3,98.2 208.2,94.0 C209.1,89.8 208.7,87.9 210.1,84.9 C211.4,81.9 215.5,77.3 216.6,75.8" fill="none" stroke="url(#cg2)" stroke-width="0.9055215945027951" stroke-linecap="round" stroke-linejoin="round" opacity="0.92"/>
<path d="M198.5,155.0 C198.7,153.5 199.1,150.2 199.4,146.0 C199.8,141.8 199.9,136.0 200.8,130.0 C201.8,124.0 203.9,116.0 205.3,110.0 C206.8,104.0 208.3,98.9 209.5,94.0 C210.7,89.1 211.0,85.2 212.3,80.7 C213.6,76.3 216.5,69.7 217.3,67.5" fill="none" stroke="url(#cg1)" stroke-width="0.7922948898884028" stroke-linecap="round" stroke-linejoin="round" opacity="0.92"/>
<path d="M198.9,155.0 C199.1,153.5 199.5,150.2 200.1,146.0 C200.6,141.8 200.8,136.0 202.1,130.0 C203.3,124.0 205.8,116.0 207.5,110.0 C209.1,104.0 210.8,99.4 212.0,94.0 C213.1,88.6 213.0,83.2 214.4,77.8 C215.8,72.4 219.5,64.3 220.5,61.6" fill="none" stroke="url(#cg3)" stroke-width="0.7521065063839604" stroke-linecap="round" stroke-linejoin="round" opacity="0.92"/>
<path d="M198.7,155.0 C199.0,153.5 199.9,150.2 200.5,146.0 C201.1,141.8 201.1,136.0 202.4,130.0 C203.7,124.0 206.5,116.0 208.3,110.0 C210.2,104.0 212.1,98.5 213.5,94.0 C214.8,89.5 215.4,86.8 216.4,83.2 C217.4,79.6 219.0,74.2 219.5,72.4" fill="none" stroke="url(#cg3)" stroke-width="0.803633583511617" stroke-linecap="round" stroke-linejoin="round" opacity="0.92"/>
<path d="M207.0,99.0 C208.0,96.9 210.9,89.1 213.2,86.6 C215.5,84.1 219.7,84.3 221.0,83.8" fill="none" stroke="#3e8a3c" stroke-width="1.035296624617076" stroke-linecap="round" stroke-linejoin="round" opacity="0.9"/>
<path d="M207.2,92.9 C208.5,89.8 211.9,79.1 214.7,74.3 C217.6,69.5 222.7,65.8 224.3,64.1" fill="none" stroke="#2f7431" stroke-width="0.908270667291357" stroke-linecap="round" stroke-linejoin="round" opacity="0.9"/>
<path d="M194.5,88.3 C194.0,85.5 192.5,76.8 191.2,71.5 C189.9,66.1 187.5,58.9 186.8,56.4" fill="none" stroke="#3e8a3c" stroke-width="0.9390086481628124" stroke-linecap="round" stroke-linejoin="round" opacity="0.9"/>
<path d="M204.4,91.7 C204.8,89.7 205.9,83.0 206.9,79.7 C207.8,76.3 209.5,73.0 210.1,71.7" fill="none" stroke="#2f7431" stroke-width="1.0492203217647205" stroke-linecap="round" stroke-linejoin="round" opacity="0.9"/>
<path d="M210.4,93.7 C211.3,91.1 213.9,82.1 216.1,78.3 C218.3,74.5 222.3,72.3 223.5,71.2" fill="none" stroke="#357f36" stroke-width="1.0519010367048969" stroke-linecap="round" stroke-linejoin="round" opacity="0.9"/>
<path d="M210.2,96.8 C212.2,94.9 217.9,87.7 222.3,85.6 C226.7,83.4 234.3,84.4 236.7,84.1" fill="none" stroke="#357f36" stroke-width="0.7887117017790863" stroke-linecap="round" stroke-linejoin="round" opacity="0.9"/>
<path d="M203.8,94.8 C204.8,91.8 207.5,82.7 209.8,76.9 C212.1,71.1 216.3,62.9 217.6,60.1" fill="none" stroke="#2f7431" stroke-width="0.9303548662393538" stroke-linecap="round" stroke-linejoin="round" opacity="0.9"/>
<path d="M195.6,91.6 C195.2,89.5 194.0,83.0 193.1,79.1 C192.1,75.2 190.3,69.8 189.7,67.9" fill="none" stroke="#3e8a3c" stroke-width="1.0261785195185478" stroke-linecap="round" stroke-linejoin="round" opacity="0.9"/>
<path d="M194.0,92.3 C193.5,90.5 192.2,84.6 191.1,81.3 C190.0,78.1 188.0,74.1 187.4,72.7" fill="none" stroke="#245f28" stroke-width="0.8297404482913552" stroke-linecap="round" stroke-linejoin="round" opacity="0.9"/>
<path d="M33.8,57.0 C35.5,57.9 41.1,59.4 44.0,62.2 C46.9,65.0 49.2,70.4 50.9,74.1 C52.6,77.8 53.3,80.1 54.3,84.4 C55.3,88.7 56.5,97.4 57.0,100.0" fill="none" stroke="#26682b" stroke-width="0.9" stroke-linecap="round" stroke-linejoin="round" opacity="1.0"/>
<path d="M38.9,59.6 C40.0,61.5 43.6,66.6 45.7,70.7 C47.8,74.8 50.2,79.5 51.7,84.4 C53.2,89.3 54.5,97.4 55.0,100.0" fill="none" stroke="#327f35" stroke-width="0.9" stroke-linecap="round" stroke-linejoin="round" opacity="1.0"/>
<path d="M20.1,78.4 C22.1,77.7 28.3,75.1 32.0,74.1 C35.7,73.1 39.4,72.1 42.3,72.4 C45.1,72.7 47.0,73.8 49.1,75.9 C51.2,78.0 54.0,83.5 55.0,85.0" fill="none" stroke="#26682b" stroke-width="0.9" stroke-linecap="round" stroke-linejoin="round" opacity="1.0"/>
<path d="M21.8,87.8 C24.1,86.7 31.2,82.4 35.5,81.0 C39.8,79.6 44.5,78.7 47.4,79.3 C50.2,79.9 51.2,81.8 52.6,84.4 C54.0,87.0 55.4,93.2 56.0,95.0" fill="none" stroke="#26682b" stroke-width="0.9" stroke-linecap="round" stroke-linejoin="round" opacity="1.0"/>
<path d="M37.2,96.3 C38.3,94.9 41.7,89.5 44.0,87.8 C46.3,86.1 48.9,85.4 50.9,86.1 C52.9,86.8 55.1,91.0 56.0,92.0" fill="none" stroke="#327f35" stroke-width="0.9" stroke-linecap="round" stroke-linejoin="round" opacity="1.0"/>
<path d="M71.3,63.9 C70.5,66.2 67.6,73.0 66.2,77.6 C64.8,82.1 63.7,85.8 62.8,91.2 C61.9,96.6 61.3,106.9 61.0,110.0" fill="none" stroke="#327f35" stroke-width="1.0" stroke-linecap="round" stroke-linejoin="round" opacity="1.0"/>
<path d="M79.9,69.0 C78.8,71.6 75.3,79.9 73.0,84.4 C70.7,89.0 67.9,92.0 66.2,96.3 C64.5,100.6 63.5,107.7 63.0,110.0" fill="none" stroke="#26682b" stroke-width="1.0" stroke-linecap="round" stroke-linejoin="round" opacity="1.0"/>
<path d="M81.6,81.0 C80.8,82.7 78.2,88.1 76.5,91.2 C74.8,94.3 73.2,96.3 71.3,99.8 C69.4,103.3 66.0,110.0 65.0,112.0" fill="none" stroke="#327f35" stroke-width="0.9" stroke-linecap="round" stroke-linejoin="round" opacity="1.0"/>
<path d="M40.9,90.0 C40.2,90.8 38.0,93.0 37.0,95.0 C36.0,97.0 35.4,99.3 34.9,102.0 C34.4,104.7 34.1,109.4 33.9,110.9" fill="none" stroke="#327f35" stroke-width="0.9" stroke-linecap="round" stroke-linejoin="round" opacity="1.0"/>
<path d="M24.0,117.9 C24.8,116.2 26.5,110.3 29.0,108.0 C31.5,105.7 35.6,103.7 38.9,104.0 C42.2,104.3 46.0,107.7 48.9,110.0 C51.8,112.3 54.8,116.7 56.0,118.0" fill="none" stroke="#26682b" stroke-width="0.9" stroke-linecap="round" stroke-linejoin="round" opacity="1.0"/>
<path d="M79.8,131.9 C79.7,130.6 79.7,126.3 79.2,124.0 C78.7,121.7 77.9,119.2 76.8,117.9 C75.7,116.6 74.6,116.0 72.8,116.0 C71.0,116.0 67.1,117.7 66.0,118.0" fill="none" stroke="#6a8a3c" stroke-width="1.1" stroke-linecap="round" stroke-linejoin="round" opacity="1.0"/>
<path d="M47.9,135.9 L55.9,133.9" fill="none" stroke="#26682b" stroke-width="0.8" stroke-linecap="round" stroke-linejoin="round" opacity="1.0"/>
<path d="M66.9,90.0 C68.6,90.7 73.8,92.7 76.8,94.0 C79.8,95.3 83.6,97.3 85.0,98.0" fill="none" stroke="#26682b" stroke-width="0.9" stroke-linecap="round" stroke-linejoin="round" opacity="1.0"/>
<path d="M52.0,60.0 C52.2,63.3 52.3,73.3 53.0,80.0 C53.7,86.7 55.5,96.7 56.0,100.0" fill="none" stroke="#43903f" stroke-width="1.0" stroke-linecap="round" stroke-linejoin="round" opacity="1.0"/>
<path d="M60.0,55.0 C60.0,59.2 60.0,71.7 60.0,80.0 C60.0,88.3 60.0,100.8 60.0,105.0" fill="none" stroke="#327f35" stroke-width="1.0" stroke-linecap="round" stroke-linejoin="round" opacity="1.0"/>
<path d="M56.5,63.0 C56.6,65.0 57.0,69.7 57.2,75.0 C57.5,80.3 57.9,91.7 58.0,95.0" fill="none" stroke="#26682b" stroke-width="1.0" stroke-linecap="round" stroke-linejoin="round" opacity="1.0"/>
<path d="M53.4,72.0 C53.7,74.0 54.4,79.3 55.0,84.0 C55.6,88.7 56.7,97.3 57.0,100.0" fill="none" stroke="#327f35" stroke-width="1.0" stroke-linecap="round" stroke-linejoin="round" opacity="1.0"/>
<path d="M57.2,69.0 L58.0,85.0" fill="none" stroke="#26682b" stroke-width="1.0" stroke-linecap="round" stroke-linejoin="round" opacity="1.0"/>
<path d="M63.2,71.0 C63.1,73.3 62.8,80.2 62.5,85.0 C62.2,89.8 61.7,97.5 61.5,100.0" fill="none" stroke="#327f35" stroke-width="1.0" stroke-linecap="round" stroke-linejoin="round" opacity="1.0"/>
<path d="M67.0,65.6 C66.8,68.0 66.5,75.1 66.0,80.0 C65.5,84.9 64.3,92.5 64.0,95.0" fill="none" stroke="#26682b" stroke-width="1.0" stroke-linecap="round" stroke-linejoin="round" opacity="1.0"/>
<path d="M77.5,69.0 C76.8,70.5 74.6,74.5 73.0,78.0 C71.4,81.5 68.8,88.0 68.0,90.0" fill="none" stroke="#327f35" stroke-width="0.9" stroke-linecap="round" stroke-linejoin="round" opacity="1.0"/>
<path d="M81.0,48.9 C82.7,50.7 88.3,56.4 91.0,59.9 C93.7,63.4 95.3,65.7 97.0,69.9 C98.7,74.1 100.3,82.5 101.0,85.0" fill="none" stroke="#1f6224" stroke-width="1.0" stroke-linecap="round" stroke-linejoin="round" opacity="1.0"/>
<path d="M95.0,45.0 C95.5,47.5 97.1,54.1 97.9,59.9 C98.7,65.7 99.4,73.2 99.9,79.9 C100.4,86.6 100.7,96.7 100.9,100.0" fill="none" stroke="#327f35" stroke-width="1.2" stroke-linecap="round" stroke-linejoin="round" opacity="1.0"/>
<path d="M111.9,49.0 C111.2,50.8 108.9,54.8 107.9,59.9 C106.9,65.0 106.4,73.2 105.9,79.9 C105.4,86.6 105.2,96.7 105.0,100.0" fill="none" stroke="#43903f" stroke-width="1.2" stroke-linecap="round" stroke-linejoin="round" opacity="1.0"/>
<path d="M104.9,50.0 C104.9,53.3 104.9,62.5 104.9,70.0 C104.9,77.5 105.0,90.8 105.0,95.0" fill="none" stroke="#327f35" stroke-width="1.1" stroke-linecap="round" stroke-linejoin="round" opacity="1.0"/>
<path d="M116.9,55.0 C116.4,57.5 114.9,64.1 113.9,69.9 C112.9,75.7 111.7,84.0 110.9,89.8 C110.1,95.6 109.3,102.5 109.0,105.0" fill="none" stroke="#7fa83e" stroke-width="1.1" stroke-linecap="round" stroke-linejoin="round" opacity="1.0"/>
<path d="M132.8,55.9 C131.2,57.2 125.6,61.6 122.9,63.9 C120.2,66.2 118.7,66.4 116.9,69.9 C115.1,73.4 112.8,82.5 112.0,85.0" fill="none" stroke="#327f35" stroke-width="1.0" stroke-linecap="round" stroke-linejoin="round" opacity="1.0"/>
<path d="M142.8,71.9 C140.2,71.9 131.1,71.2 126.9,71.9 C122.8,72.6 120.4,73.2 117.9,75.9 C115.4,78.6 113.0,86.0 112.0,88.0" fill="none" stroke="#26682b" stroke-width="0.9" stroke-linecap="round" stroke-linejoin="round" opacity="1.0"/>
<path d="M83.0,67.9 C84.7,71.2 90.3,82.5 93.0,87.8 C95.7,93.1 97.4,95.5 98.9,100.0 C100.4,104.5 101.5,112.5 102.0,115.0" fill="none" stroke="#26682b" stroke-width="1.0" stroke-linecap="round" stroke-linejoin="round" opacity="1.0"/>
<path d="M75.0,94.0 C76.7,94.0 81.7,93.0 85.0,94.0 C88.3,95.0 92.5,97.3 95.0,100.0 C97.5,102.7 99.2,108.3 100.0,110.0" fill="none" stroke="#26682b" stroke-width="0.9" stroke-linecap="round" stroke-linejoin="round" opacity="1.0"/>
<path d="M145.0,90.0 C142.6,91.7 135.7,95.3 130.8,100.0 C126.0,104.7 119.4,113.0 115.9,118.0 C112.4,123.0 111.0,128.0 110.0,130.0" fill="none" stroke="#327f35" stroke-width="1.0" stroke-linecap="round" stroke-linejoin="round" opacity="1.0"/>
<path d="M122.0,62.0 C121.3,64.2 119.3,69.5 118.0,75.0 C116.7,80.5 114.7,91.7 114.0,95.0" fill="none" stroke="#43903f" stroke-width="1.0" stroke-linecap="round" stroke-linejoin="round" opacity="1.0"/>
<path d="M88.0,58.0 C89.0,60.8 92.3,68.8 94.0,75.0 C95.7,81.2 97.3,91.7 98.0,95.0" fill="none" stroke="#26682b" stroke-width="1.0" stroke-linecap="round" stroke-linejoin="round" opacity="1.0"/>
<path d="M100.0,52.0 C100.3,55.0 101.5,63.7 102.0,70.0 C102.5,76.3 102.8,86.7 103.0,90.0" fill="none" stroke="#43903f" stroke-width="1.0" stroke-linecap="round" stroke-linejoin="round" opacity="1.0"/>
<path d="M120.0,70.0 C119.3,72.5 117.3,79.2 116.0,85.0 C114.7,90.8 112.7,101.7 112.0,105.0" fill="none" stroke="#327f35" stroke-width="1.0" stroke-linecap="round" stroke-linejoin="round" opacity="1.0"/>
<path d="M116.1,23.7 C118.2,26.2 125.1,33.4 128.7,38.5 C132.3,43.6 135.2,49.2 137.8,54.5 C140.5,59.8 142.7,65.1 144.6,70.4 C146.5,75.7 148.0,80.6 149.2,86.4 C150.4,92.2 151.5,101.9 152.0,105.0" fill="none" stroke="#3f9a40" stroke-width="1.15" stroke-linecap="round" stroke-linejoin="round" opacity="1.0"/>
<path d="M152.6,47.6 C152.8,50.3 153.5,57.9 153.7,63.6 C153.9,69.3 153.7,75.7 153.7,81.8 C153.7,87.9 153.5,97.0 153.5,100.0" fill="none" stroke="#327f35" stroke-width="1.3" stroke-linecap="round" stroke-linejoin="round" opacity="1.0"/>
<path d="M161.7,43.0 C161.3,46.4 160.2,56.4 159.4,63.6 C158.7,70.8 157.8,80.3 157.2,86.4 C156.6,92.5 156.2,97.7 156.0,100.0" fill="none" stroke="#43903f" stroke-width="1.3" stroke-linecap="round" stroke-linejoin="round" opacity="1.0"/>
<path d="M183.4,40.8 C181.5,43.1 175.4,50.0 172.0,54.5 C168.6,59.0 165.2,63.5 162.9,68.1 C160.6,72.6 159.5,77.3 158.3,81.8 C157.2,86.3 156.4,92.8 156.0,95.0" fill="none" stroke="#44a044" stroke-width="1.3" stroke-linecap="round" stroke-linejoin="round" opacity="1.0"/>
<path d="M118.4,72.7 C121.6,72.5 131.9,71.6 137.8,71.6 C143.7,71.6 151.0,72.5 153.7,72.7" fill="none" stroke="#26682b" stroke-width="1.0" stroke-linecap="round" stroke-linejoin="round" opacity="1.0"/>
<path d="M115.0,63.6 C116.5,62.8 121.1,60.1 124.1,59.0 C127.1,57.9 129.7,54.9 133.2,56.7 C136.7,58.5 143.0,67.8 145.0,70.0" fill="none" stroke="#6e8d3a" stroke-width="1.0" stroke-linecap="round" stroke-linejoin="round" opacity="1.0"/>
<path d="M165.1,81.8 C166.2,83.3 170.5,88.3 172.0,91.0 C173.5,93.7 173.9,96.8 174.3,98.0" fill="none" stroke="#8fa858" stroke-width="1.0" stroke-linecap="round" stroke-linejoin="round" opacity="1.0"/>
<path d="M128.7,90.0 C130.2,92.3 135.5,100.3 137.8,103.7 C140.1,107.1 140.5,107.8 142.4,110.5 C144.3,113.2 147.9,118.4 149.0,120.0" fill="none" stroke="#327f35" stroke-width="1.0" stroke-linecap="round" stroke-linejoin="round" opacity="1.0"/>
<path d="M134.4,118.5 C135.3,119.5 138.2,121.9 140.1,124.2 C142.0,126.5 144.9,130.9 145.8,132.2" fill="none" stroke="#8a9a44" stroke-width="1.1" stroke-linecap="round" stroke-linejoin="round" opacity="1.0"/>
<path d="M162.9,110.5 C164.8,110.9 170.9,111.6 174.3,112.8 C177.7,114.0 180.8,114.8 183.4,117.4 C186.1,120.1 189.1,126.8 190.2,128.7" fill="none" stroke="#26682b" stroke-width="1.0" stroke-linecap="round" stroke-linejoin="round" opacity="1.0"/>
<path d="M168.6,90.0 C169.6,91.5 172.2,96.4 174.3,99.1 C176.4,101.8 180.0,104.8 181.1,106.0" fill="none" stroke="#327f35" stroke-width="1.0" stroke-linecap="round" stroke-linejoin="round" opacity="1.0"/>
<path d="M145.0,52.0 C145.5,55.0 147.2,63.7 148.0,70.0 C148.8,76.3 149.7,86.7 150.0,90.0" fill="none" stroke="#43903f" stroke-width="1.1" stroke-linecap="round" stroke-linejoin="round" opacity="1.0"/>
<path d="M166.0,52.0 C165.5,55.0 164.0,63.3 163.0,70.0 C162.0,76.7 160.5,88.3 160.0,92.0" fill="none" stroke="#327f35" stroke-width="1.1" stroke-linecap="round" stroke-linejoin="round" opacity="1.0"/>
<path d="M140.0,60.0 C140.8,63.3 143.5,73.3 145.0,80.0 C146.5,86.7 148.3,96.7 149.0,100.0" fill="none" stroke="#26682b" stroke-width="1.0" stroke-linecap="round" stroke-linejoin="round" opacity="1.0"/>
<path d="M170.0,62.0 C169.2,65.0 166.5,73.7 165.0,80.0 C163.5,86.3 161.7,96.7 161.0,100.0" fill="none" stroke="#26682b" stroke-width="1.0" stroke-linecap="round" stroke-linejoin="round" opacity="1.0"/>
<path d="M193.5,46.0 C194.1,48.6 196.0,56.2 196.9,61.9 C197.8,67.6 198.6,74.0 199.2,80.1 C199.8,86.2 200.1,95.4 200.3,98.4" fill="none" stroke="#43903f" stroke-width="1.3" stroke-linecap="round" stroke-linejoin="round" opacity="1.0"/>
<path d="M199.2,50.5 C199.0,52.8 198.2,58.5 198.0,64.2 C197.8,70.0 198.0,81.5 198.0,85.0" fill="none" stroke="#327f35" stroke-width="1.1" stroke-linecap="round" stroke-linejoin="round" opacity="1.0"/>
<path d="M181.0,57.4 C182.1,60.4 185.5,69.5 187.8,75.6 C190.1,81.7 193.2,88.1 194.6,93.8 C196.0,99.5 195.8,107.3 196.0,110.0" fill="none" stroke="#327f35" stroke-width="1.2" stroke-linecap="round" stroke-linejoin="round" opacity="1.0"/>
<path d="M208.3,57.4 C208.1,60.4 207.6,69.5 207.2,75.6 C206.8,81.7 206.7,88.1 206.0,93.8 C205.3,99.5 203.5,107.3 203.0,110.0" fill="none" stroke="#43903f" stroke-width="1.2" stroke-linecap="round" stroke-linejoin="round" opacity="1.0"/>
<path d="M214.0,59.6 C213.4,63.0 211.9,73.4 210.6,80.1 C209.3,86.8 206.8,96.7 206.0,100.0" fill="none" stroke="#327f35" stroke-width="1.1" stroke-linecap="round" stroke-linejoin="round" opacity="1.0"/>
<path d="M240.2,67.6 C238.7,67.4 234.1,65.9 231.1,66.5 C228.1,67.1 224.8,68.3 222.0,71.0 C219.2,73.7 216.7,77.6 214.0,82.4 C211.3,87.2 207.3,97.1 206.0,100.0" fill="none" stroke="#5a9c3e" stroke-width="1.0" stroke-linecap="round" stroke-linejoin="round" opacity="1.0"/>
<path d="M219.7,66.5 C219.1,68.0 217.6,71.8 216.3,75.6 C215.0,79.4 213.6,84.4 211.7,89.3 C209.8,94.2 206.1,102.4 205.0,105.0" fill="none" stroke="#26682b" stroke-width="1.0" stroke-linecap="round" stroke-linejoin="round" opacity="1.0"/>
<path d="M230.0,84.7 C227.9,86.2 220.6,91.1 217.4,93.8 C214.2,96.5 212.8,97.7 210.6,100.7 C208.4,103.7 205.1,110.1 204.0,112.0" fill="none" stroke="#327f35" stroke-width="1.0" stroke-linecap="round" stroke-linejoin="round" opacity="1.0"/>
<path d="M235.7,96.1 C233.8,97.2 227.4,101.1 224.3,103.0 C221.2,104.9 220.1,105.0 217.4,107.5 C214.7,110.0 209.6,116.2 208.0,118.0" fill="none" stroke="#26682b" stroke-width="0.9" stroke-linecap="round" stroke-linejoin="round" opacity="1.0"/>
<path d="M236.8,143.6 C236.2,141.5 234.7,134.2 233.4,131.0 C232.1,127.8 231.5,125.7 228.8,124.2 C226.1,122.7 221.4,121.9 217.4,121.9 C213.4,121.9 207.0,123.8 204.9,124.2" fill="none" stroke="#6a9040" stroke-width="0.9" stroke-linecap="round" stroke-linejoin="round" opacity="1.0"/>
<path d="M187.8,151.5 C188.6,150.0 190.5,145.8 192.4,142.4 C194.3,139.0 197.4,134.7 199.2,131.0 C201.0,127.3 202.4,121.8 203.0,120.0" fill="none" stroke="#8aa650" stroke-width="1.1" stroke-linecap="round" stroke-linejoin="round" opacity="1.0"/>
<path d="M167.3,112.8 C168.8,113.2 173.4,113.9 176.4,115.0 C179.4,116.1 182.9,117.8 185.5,119.6 C188.1,121.4 190.9,124.9 192.0,126.0" fill="none" stroke="#26682b" stroke-width="0.9" stroke-linecap="round" stroke-linejoin="round" opacity="1.0"/>
<path d="M233.4,94.6 C231.9,95.3 228.1,98.0 224.3,99.1 C220.5,100.2 214.0,99.9 210.6,101.4 C207.2,102.9 205.1,106.9 204.0,108.0" fill="none" stroke="#327f35" stroke-width="0.9" stroke-linecap="round" stroke-linejoin="round" opacity="1.0"/>
<path d="M169.6,90.0 C170.7,92.3 174.1,99.5 176.4,103.7 C178.7,107.9 180.9,111.5 183.2,115.0 C185.5,118.5 188.9,123.3 190.0,125.0" fill="none" stroke="#26682b" stroke-width="1.0" stroke-linecap="round" stroke-linejoin="round" opacity="1.0"/>
<path d="M186.0,62.0 C186.7,65.0 188.7,73.7 190.0,80.0 C191.3,86.3 193.3,96.7 194.0,100.0" fill="none" stroke="#26682b" stroke-width="1.0" stroke-linecap="round" stroke-linejoin="round" opacity="1.0"/>
<path d="M203.0,55.0 C202.8,58.3 202.3,68.3 202.0,75.0 C201.7,81.7 201.2,91.7 201.0,95.0" fill="none" stroke="#43903f" stroke-width="1.1" stroke-linecap="round" stroke-linejoin="round" opacity="1.0"/>
<path d="M48.3,46.0 C49.0,46.6 51.3,47.9 52.5,49.5 C53.7,51.1 54.8,53.1 55.5,55.4 C56.2,57.6 56.3,61.7 56.5,63.0" fill="none" stroke="url(#pg)" stroke-width="1.8" stroke-linecap="round" stroke-linejoin="round" opacity="1.0"/>
<path d="M49.1,50.2 C49.4,51.5 50.1,55.4 50.6,58.0 C51.1,60.6 51.5,63.7 52.0,66.0 C52.5,68.3 53.2,71.0 53.4,72.0" fill="none" stroke="url(#pg)" stroke-width="1.8" stroke-linecap="round" stroke-linejoin="round" opacity="1.0"/>
<path d="M56.0,50.2 C56.1,51.8 56.4,56.9 56.6,60.0 C56.8,63.1 57.1,67.5 57.2,69.0" fill="none" stroke="url(#pg)" stroke-width="1.7" stroke-linecap="round" stroke-linejoin="round" opacity="1.0"/>
<path d="M64.5,52.0 C64.4,53.7 64.2,58.8 64.0,62.0 C63.8,65.2 63.3,69.5 63.2,71.0" fill="none" stroke="url(#pg)" stroke-width="1.8" stroke-linecap="round" stroke-linejoin="round" opacity="1.0"/>
<path d="M67.9,52.8 C67.8,54.0 67.6,57.9 67.4,60.0 C67.2,62.1 67.1,64.7 67.0,65.6" fill="none" stroke="#a8ad5c" stroke-width="1.4" stroke-linecap="round" stroke-linejoin="round" opacity="1.0"/>
<path d="M84.1,59.6 C83.4,60.4 81.1,62.9 80.0,64.5 C78.9,66.1 77.9,68.2 77.5,69.0" fill="none" stroke="#a4aa58" stroke-width="1.5" stroke-linecap="round" stroke-linejoin="round" opacity="1.0"/></g>
<rect x="49.40" y="155.80" width="22.20" height="1.90" fill="#4a1a12"/>
<rect x="50.00" y="157.60" width="21.00" height="9.40" fill="#f2341a"/>
<rect x="50.00" y="157.60" width="21.00" height="1.00" fill="#b01c0a"/>
<text x="62.00" y="164.40" font-size="7.3" text-anchor="middle" font-weight="bold" fill="#f0f0f0" style="stroke:#ececec;stroke-width:0.1px">Kitaake</text>
<rect x="93.80" y="155.80" width="24.80" height="1.90" fill="#4a1a12"/>
<rect x="94.40" y="157.60" width="23.60" height="9.40" fill="#f2341a"/>
<rect x="94.40" y="157.60" width="23.60" height="1.00" fill="#b01c0a"/>
<text x="107.30" y="164.40" font-size="7.3" text-anchor="middle" font-weight="bold" fill="#f0f0f0" style="stroke:#ececec;stroke-width:0.1px">DHD3-OE1</text>
<rect x="140.90" y="155.80" width="23.20" height="1.90" fill="#4a1a12"/>
<rect x="141.50" y="157.60" width="22.00" height="9.40" fill="#f2341a"/>
<rect x="141.50" y="157.60" width="22.00" height="1.00" fill="#b01c0a"/>
<text x="153.50" y="164.40" font-size="7.3" text-anchor="middle" font-weight="bold" fill="#f0f0f0" style="stroke:#ececec;stroke-width:0.1px">DHD3-OE3</text>
<rect x="186.40" y="155.80" width="23.20" height="1.90" fill="#4a1a12"/>
<rect x="187.00" y="157.60" width="22.00" height="9.40" fill="#f2341a"/>
<rect x="187.00" y="157.60" width="22.00" height="1.00" fill="#b01c0a"/>
<text x="199.30" y="164.40" font-size="7.3" text-anchor="middle" font-weight="bold" fill="#f0f0f0" style="stroke:#ececec;stroke-width:0.1px">DHD3-OE8</text>
<rect x="227.20" y="144.40" width="1.60" height="8.80" fill="#e8e8e8"/>
<line x1="291.50" y1="25.50" x2="291.50" y2="155.00" stroke="#231f20" stroke-width="1"/>
<line x1="291.50" y1="26.00" x2="293.30" y2="25.60" stroke="#231f20" stroke-width="0.9"/>
<line x1="291.00" y1="154.50" x2="368.80" y2="154.50" stroke="#231f20" stroke-width="1"/>
<line x1="291.50" y1="154.50" x2="293.50" y2="154.50" stroke="#231f20" stroke-width="0.8"/>
<text x="287.20" y="157.00" font-size="7.2" text-anchor="end" fill="#231f20">0</text>
<line x1="291.50" y1="128.80" x2="293.50" y2="128.80" stroke="#231f20" stroke-width="0.8"/>
<text x="287.20" y="131.30" font-size="7.2" text-anchor="end" fill="#231f20">40</text>
<line x1="291.50" y1="103.10" x2="293.50" y2="103.10" stroke="#231f20" stroke-width="0.8"/>
<text x="287.20" y="105.60" font-size="7.2" text-anchor="end" fill="#231f20">80</text>
<line x1="291.50" y1="77.40" x2="293.50" y2="77.40" stroke="#231f20" stroke-width="0.8"/>
<text x="287.20" y="79.90" font-size="7.2" text-anchor="end" fill="#231f20">120</text>
<line x1="291.50" y1="51.70" x2="293.50" y2="51.70" stroke="#231f20" stroke-width="0.8"/>
<text x="287.20" y="54.20" font-size="7.2" text-anchor="end" fill="#231f20">160</text>
<line x1="291.50" y1="26.00" x2="293.50" y2="26.00" stroke="#231f20" stroke-width="0.8"/>
<text x="287.70" y="27.60" font-size="7.2" text-anchor="end" fill="#231f20">200</text>
<line x1="310.40" y1="152.70" x2="310.40" y2="154.50" stroke="#231f20" stroke-width="0.8"/>
<line x1="329.40" y1="152.70" x2="329.40" y2="154.50" stroke="#231f20" stroke-width="0.8"/>
<line x1="348.80" y1="152.70" x2="348.80" y2="154.50" stroke="#231f20" stroke-width="0.8"/>
<line x1="368.40" y1="152.70" x2="368.40" y2="154.50" stroke="#231f20" stroke-width="0.8"/>
<rect x="293.70" y="153.86" width="14.70" height="0.64" fill="#3b3b3b"/>
<text x="301.35" y="148.36" font-size="7.2" text-anchor="middle" fill="#231f20">1<tspan font-size="6.4" style="stroke-width:0.15px">×</tspan></text>
<rect x="313.20" y="117.75" width="14.70" height="36.75" fill="#3b3b3b"/>
<line x1="320.55" y1="116.55" x2="320.55" y2="117.75" stroke="#231f20" stroke-width="0.8"/>
<line x1="319.15" y1="116.55" x2="321.95" y2="116.55" stroke="#231f20" stroke-width="0.8"/>
<text x="320.85" y="112.15" font-size="7.2" text-anchor="middle" fill="#231f20">58<tspan font-size="6.4" style="stroke-width:0.15px">×</tspan></text>
<rect x="332.50" y="45.28" width="14.70" height="109.22" fill="#3b3b3b"/>
<line x1="339.85" y1="42.88" x2="339.85" y2="45.28" stroke="#231f20" stroke-width="0.8"/>
<line x1="338.45" y1="42.88" x2="341.25" y2="42.88" stroke="#231f20" stroke-width="0.8"/>
<text x="340.15" y="40.18" font-size="7.2" text-anchor="middle" fill="#231f20">170<tspan font-size="6.4" style="stroke-width:0.15px">×</tspan></text>
<rect x="352.10" y="91.53" width="14.70" height="62.97" fill="#3b3b3b"/>
<line x1="359.45" y1="90.23" x2="359.45" y2="91.53" stroke="#231f20" stroke-width="0.8"/>
<line x1="358.05" y1="90.23" x2="360.85" y2="90.23" stroke="#231f20" stroke-width="0.8"/>
<text x="359.75" y="86.23" font-size="7.2" text-anchor="middle" fill="#231f20">98<tspan font-size="6.4" style="stroke-width:0.15px">×</tspan></text>
<text x="301.00" y="164.30" font-size="7.2" text-anchor="middle" fill="#231f20">Kittake</text>
<text x="321.20" y="164.30" font-size="7.2" text-anchor="middle" fill="#231f20">OE1</text>
<text x="340.60" y="164.30" font-size="7.2" text-anchor="middle" fill="#231f20">OE3</text>
<text x="359.80" y="164.30" font-size="7.2" text-anchor="middle" fill="#231f20">OE8</text>
<text transform="translate(270.6,96.6) rotate(-90)" font-size="7.25" text-anchor="middle" fill="#231f20">Relative <tspan font-style="italic">DHD3</tspan> expression to WT Kitaake</text>
<line x1="410.80" y1="25.70" x2="410.80" y2="155.10" stroke="#231f20" stroke-width="1"/>
<line x1="410.80" y1="26.20" x2="412.60" y2="25.80" stroke="#231f20" stroke-width="0.9"/>
<line x1="410.30" y1="154.60" x2="526.40" y2="154.60" stroke="#231f20" stroke-width="1"/>
<line x1="410.80" y1="154.60" x2="412.80" y2="154.60" stroke="#231f20" stroke-width="0.8"/>
<text x="406.30" y="157.10" font-size="7.2" text-anchor="end" fill="#231f20">0</text>
<line x1="410.80" y1="133.20" x2="412.80" y2="133.20" stroke="#231f20" stroke-width="0.8"/>
<text x="406.30" y="135.70" font-size="7.2" text-anchor="end" fill="#231f20">15</text>
<line x1="410.80" y1="111.80" x2="412.80" y2="111.80" stroke="#231f20" stroke-width="0.8"/>
<text x="406.30" y="114.30" font-size="7.2" text-anchor="end" fill="#231f20">30</text>
<line x1="410.80" y1="90.40" x2="412.80" y2="90.40" stroke="#231f20" stroke-width="0.8"/>
<text x="406.30" y="92.90" font-size="7.2" text-anchor="end" fill="#231f20">45</text>
<line x1="410.80" y1="69.00" x2="412.80" y2="69.00" stroke="#231f20" stroke-width="0.8"/>
<text x="406.30" y="71.50" font-size="7.2" text-anchor="end" fill="#231f20">60</text>
<line x1="410.80" y1="47.60" x2="412.80" y2="47.60" stroke="#231f20" stroke-width="0.8"/>
<text x="406.30" y="50.10" font-size="7.2" text-anchor="end" fill="#231f20">75</text>
<line x1="410.80" y1="26.20" x2="412.80" y2="26.20" stroke="#231f20" stroke-width="0.8"/>
<text x="406.30" y="28.70" font-size="7.2" text-anchor="end" fill="#231f20">90</text>
<line x1="439.60" y1="152.80" x2="439.60" y2="154.60" stroke="#231f20" stroke-width="0.8"/>
<line x1="468.60" y1="152.80" x2="468.60" y2="154.60" stroke="#231f20" stroke-width="0.8"/>
<line x1="497.60" y1="152.80" x2="497.60" y2="154.60" stroke="#231f20" stroke-width="0.8"/>
<line x1="526.40" y1="152.80" x2="526.40" y2="154.60" stroke="#231f20" stroke-width="0.8"/>
<rect x="418.10" y="66.86" width="14.20" height="87.74" fill="#a5a5a5"/>
<line x1="425.20" y1="65.86" x2="425.20" y2="67.86" stroke="#231f20" stroke-width="1.2"/>
<line x1="424.20" y1="65.86" x2="426.20" y2="65.86" stroke="#231f20" stroke-width="0.8"/>
<text x="426.60" y="60.00" font-size="7.2" text-anchor="middle" fill="#231f20"><tspan font-style="italic">n</tspan> = 29</text>
<rect x="447.00" y="48.17" width="14.20" height="106.43" fill="#a5a5a5"/>
<line x1="454.10" y1="47.37" x2="454.10" y2="48.97" stroke="#231f20" stroke-width="1.2"/>
<line x1="453.10" y1="47.37" x2="455.10" y2="47.37" stroke="#231f20" stroke-width="0.8"/>
<text x="454.60" y="45.20" font-size="8.8" text-anchor="middle" font-weight="bold" fill="#231f20" letter-spacing="1.0">**</text>
<text x="454.10" y="34.00" font-size="7.2" text-anchor="middle" fill="#231f20"><tspan font-style="italic">n</tspan> = 27</text>
<rect x="476.00" y="46.46" width="14.20" height="108.14" fill="#a5a5a5"/>
<line x1="483.10" y1="45.66" x2="483.10" y2="47.26" stroke="#231f20" stroke-width="1.2"/>
<line x1="482.10" y1="45.66" x2="484.10" y2="45.66" stroke="#231f20" stroke-width="0.8"/>
<text x="483.60" y="44.00" font-size="8.8" text-anchor="middle" font-weight="bold" fill="#231f20" letter-spacing="1.0">**</text>
<text x="483.10" y="33.00" font-size="7.2" text-anchor="middle" fill="#231f20"><tspan font-style="italic">n</tspan> = 21</text>
<rect x="505.00" y="49.31" width="14.20" height="105.29" fill="#a5a5a5"/>
<line x1="512.10" y1="47.71" x2="512.10" y2="50.91" stroke="#231f20" stroke-width="1.2"/>
<line x1="511.10" y1="47.71" x2="513.10" y2="47.71" stroke="#231f20" stroke-width="0.8"/>
<text x="512.60" y="46.60" font-size="8.8" text-anchor="middle" font-weight="bold" fill="#231f20" letter-spacing="1.0">**</text>
<text x="512.10" y="33.00" font-size="7.2" text-anchor="middle" fill="#231f20"><tspan font-style="italic">n</tspan> = 19</text>
<text x="426.20" y="165.00" font-size="7.2" text-anchor="middle" fill="#231f20">Kitaake</text>
<text x="454.20" y="165.00" font-size="7.2" text-anchor="middle" fill="#231f20">OE1</text>
<text x="483.80" y="165.00" font-size="7.2" text-anchor="middle" fill="#231f20">OE3</text>
<text x="512.80" y="165.00" font-size="7.2" text-anchor="middle" fill="#231f20">OE8</text>
<text x="466.00" y="20.00" font-size="7.2" text-anchor="middle" font-weight="bold" fill="#000">NLD</text>
<text transform="translate(393.6,84.0) rotate(-90)" font-size="7.75" text-anchor="middle" fill="#231f20">Days to flowering</text>
<line x1="46.10" y1="196.70" x2="46.10" y2="324.70" stroke="#231f20" stroke-width="1.05"/>
<line x1="45.60" y1="324.20" x2="160.40" y2="324.20" stroke="#231f20" stroke-width="1.05"/>
<line x1="46.10" y1="324.20" x2="48.70" y2="324.20" stroke="#231f20" stroke-width="1.0"/>
<text x="38.90" y="326.70" font-size="7.2" text-anchor="end" fill="#231f20">0</text>
<line x1="46.10" y1="292.45" x2="48.70" y2="292.45" stroke="#231f20" stroke-width="1.0"/>
<text x="38.90" y="294.95" font-size="7.2" text-anchor="end" fill="#231f20">20</text>
<line x1="46.10" y1="260.70" x2="48.70" y2="260.70" stroke="#231f20" stroke-width="1.0"/>
<text x="38.90" y="263.20" font-size="7.2" text-anchor="end" fill="#231f20">40</text>
<line x1="46.10" y1="228.95" x2="48.70" y2="228.95" stroke="#231f20" stroke-width="1.0"/>
<text x="38.90" y="231.45" font-size="7.2" text-anchor="end" fill="#231f20">60</text>
<line x1="46.10" y1="197.20" x2="48.70" y2="197.20" stroke="#231f20" stroke-width="1.0"/>
<text x="38.90" y="199.70" font-size="7.2" text-anchor="end" fill="#231f20">80</text>
<line x1="103.00" y1="322.40" x2="103.00" y2="324.20" stroke="#231f20" stroke-width="0.8"/>
<line x1="160.40" y1="322.40" x2="160.40" y2="324.20" stroke="#231f20" stroke-width="0.8"/>
<rect x="60.00" y="238.47" width="12.60" height="85.72" fill="#c3c1be"/>
<line x1="66.30" y1="237.47" x2="66.30" y2="239.47" stroke="#231f20" stroke-width="1.2"/>
<line x1="65.10" y1="237.67" x2="67.50" y2="237.67" stroke="#231f20" stroke-width="0.8"/>
<text x="75.00" y="231.00" font-size="7.2" text-anchor="end" fill="#231f20"><tspan font-style="italic">n</tspan> = 20</text>
<rect x="76.60" y="222.12" width="12.60" height="102.08" fill="#222222"/>
<line x1="82.90" y1="221.12" x2="82.90" y2="223.12" stroke="#231f20" stroke-width="1.2"/>
<line x1="81.70" y1="221.32" x2="84.10" y2="221.32" stroke="#231f20" stroke-width="0.8"/>
<text x="83.20" y="219.22" font-size="8.0" text-anchor="middle" font-weight="bold" fill="#231f20" letter-spacing="1.2">**</text>
<text x="83.90" y="211.12" font-size="7.2" text-anchor="middle" fill="#231f20"><tspan font-style="italic">n</tspan> = 20</text>
<rect x="117.00" y="238.47" width="12.60" height="85.72" fill="#c3c1be"/>
<line x1="123.30" y1="237.47" x2="123.30" y2="239.47" stroke="#231f20" stroke-width="1.2"/>
<line x1="122.10" y1="237.67" x2="124.50" y2="237.67" stroke="#231f20" stroke-width="0.8"/>
<text x="132.00" y="231.00" font-size="7.2" text-anchor="end" fill="#231f20"><tspan font-style="italic">n</tspan> = 19</text>
<rect x="133.60" y="220.54" width="12.60" height="103.66" fill="#222222"/>
<line x1="139.90" y1="219.54" x2="139.90" y2="221.54" stroke="#231f20" stroke-width="1.2"/>
<line x1="138.70" y1="219.74" x2="141.10" y2="219.74" stroke="#231f20" stroke-width="0.8"/>
<text x="140.20" y="217.64" font-size="8.0" text-anchor="middle" font-weight="bold" fill="#231f20" letter-spacing="1.2">**</text>
<text x="140.90" y="209.54" font-size="7.2" text-anchor="middle" fill="#231f20"><tspan font-style="italic">n</tspan> = 19</text>
<text x="73.50" y="337.00" font-size="7.2" text-anchor="middle" fill="#231f20">LD</text>
<text x="131.70" y="337.00" font-size="7.2" text-anchor="middle" fill="#231f20">SD</text>
<rect x="59.00" y="195.00" width="3.60" height="3.60" fill="#c3c1be"/>
<text x="64.00" y="199.00" font-size="7.4" text-anchor="start" fill="#231f20">Kitaake</text>
<rect x="98.60" y="195.00" width="3.60" height="3.60" fill="#222222"/>
<text x="104.00" y="199.00" font-size="7.45" text-anchor="start" fill="#231f20">DHD3-OE3</text>
<text transform="translate(28.0,249.0) rotate(-90)" font-size="7.65" text-anchor="middle" fill="#231f20">Days to flowering</text>
<line x1="209.20" y1="197.90" x2="209.20" y2="322.90" stroke="#231f20" stroke-width="1"/>
<line x1="209.20" y1="198.40" x2="211.00" y2="198.00" stroke="#231f20" stroke-width="0.9"/>
<line x1="208.70" y1="322.40" x2="337.80" y2="322.40" stroke="#231f20" stroke-width="1"/>
<line x1="209.20" y1="322.40" x2="211.20" y2="322.40" stroke="#231f20" stroke-width="0.8"/>
<text x="201.80" y="324.90" font-size="7.2" text-anchor="end" fill="#231f20">0</text>
<line x1="209.20" y1="301.73" x2="211.20" y2="301.73" stroke="#231f20" stroke-width="0.8"/>
<text x="201.80" y="304.23" font-size="7.2" text-anchor="end" fill="#231f20">2</text>
<line x1="209.20" y1="281.07" x2="211.20" y2="281.07" stroke="#231f20" stroke-width="0.8"/>
<text x="201.80" y="283.57" font-size="7.2" text-anchor="end" fill="#231f20">4</text>
<line x1="209.20" y1="260.40" x2="211.20" y2="260.40" stroke="#231f20" stroke-width="0.8"/>
<text x="201.80" y="262.90" font-size="7.2" text-anchor="end" fill="#231f20">6</text>
<line x1="209.20" y1="239.73" x2="211.20" y2="239.73" stroke="#231f20" stroke-width="0.8"/>
<text x="201.80" y="242.23" font-size="7.2" text-anchor="end" fill="#231f20">8</text>
<line x1="209.20" y1="219.07" x2="211.20" y2="219.07" stroke="#231f20" stroke-width="0.8"/>
<text x="201.80" y="221.57" font-size="7.2" text-anchor="end" fill="#231f20">10</text>
<line x1="209.20" y1="198.40" x2="211.20" y2="198.40" stroke="#231f20" stroke-width="0.8"/>
<text x="201.80" y="200.90" font-size="7.2" text-anchor="end" fill="#231f20">12</text>
<text x="209.50" y="335.00" font-size="7.2" text-anchor="middle" fill="#231f20">3</text>
<line x1="227.55" y1="320.60" x2="227.55" y2="322.40" stroke="#231f20" stroke-width="0.8"/>
<text x="227.85" y="335.00" font-size="7.2" text-anchor="middle" fill="#231f20">13</text>
<line x1="245.90" y1="320.60" x2="245.90" y2="322.40" stroke="#231f20" stroke-width="0.8"/>
<text x="246.20" y="335.00" font-size="7.2" text-anchor="middle" fill="#231f20">23</text>
<line x1="264.25" y1="320.60" x2="264.25" y2="322.40" stroke="#231f20" stroke-width="0.8"/>
<text x="264.55" y="335.00" font-size="7.2" text-anchor="middle" fill="#231f20">33</text>
<line x1="282.60" y1="320.60" x2="282.60" y2="322.40" stroke="#231f20" stroke-width="0.8"/>
<text x="282.90" y="335.00" font-size="7.2" text-anchor="middle" fill="#231f20">43</text>
<line x1="300.95" y1="320.60" x2="300.95" y2="322.40" stroke="#231f20" stroke-width="0.8"/>
<text x="301.25" y="335.00" font-size="7.2" text-anchor="middle" fill="#231f20">53</text>
<line x1="319.30" y1="320.60" x2="319.30" y2="322.40" stroke="#231f20" stroke-width="0.8"/>
<text x="319.60" y="335.00" font-size="7.2" text-anchor="middle" fill="#231f20">63</text>
<line x1="337.65" y1="320.60" x2="337.65" y2="322.40" stroke="#231f20" stroke-width="0.8"/>
<text x="337.95" y="335.00" font-size="7.2" text-anchor="middle" fill="#231f20">75</text>
<text x="272.30" y="346.00" font-size="7.45" text-anchor="middle" fill="#231f20">Days after sowing</text>
<text transform="translate(189.0,262.0) rotate(-90)" font-size="7.55" text-anchor="middle" fill="#231f20">No. of leaves</text>
<text x="273.50" y="196.80" font-size="7.2" text-anchor="middle" font-weight="bold" fill="#000">LD</text>
<polyline fill="none" stroke="#2a2a2a" stroke-width="1.1" points="209.20,312.07 215.30,312.07 226.60,285.72 232.00,281.07 237.20,271.77 242.70,263.29 248.50,260.40 259.40,251.10 270.40,243.87 281.40,236.63 292.50,228.37 303.40,228.37 314.70,228.37 325.50,228.37 336.50,228.37"/>
<circle cx="209.20" cy="312.07" r="1.65" fill="#2a2a2a"/>
<circle cx="215.30" cy="312.07" r="1.65" fill="#2a2a2a"/>
<circle cx="226.60" cy="285.72" r="1.65" fill="#2a2a2a"/>
<circle cx="232.00" cy="281.07" r="1.65" fill="#2a2a2a"/>
<circle cx="237.20" cy="271.77" r="1.65" fill="#2a2a2a"/>
<circle cx="242.70" cy="263.29" r="1.65" fill="#2a2a2a"/>
<circle cx="248.50" cy="260.40" r="1.65" fill="#2a2a2a"/>
<circle cx="259.40" cy="251.10" r="1.65" fill="#2a2a2a"/>
<circle cx="270.40" cy="243.87" r="1.65" fill="#2a2a2a"/>
<circle cx="281.40" cy="236.63" r="1.65" fill="#2a2a2a"/>
<circle cx="292.50" cy="228.37" r="1.65" fill="#2a2a2a"/>
<circle cx="303.40" cy="228.37" r="1.65" fill="#2a2a2a"/>
<circle cx="314.70" cy="228.37" r="1.65" fill="#2a2a2a"/>
<circle cx="325.50" cy="228.37" r="1.65" fill="#2a2a2a"/>
<circle cx="336.50" cy="228.37" r="1.65" fill="#2a2a2a"/>
<polyline fill="none" stroke="#b2b2b2" stroke-width="1.1" points="209.20,312.07 215.30,312.07 226.60,289.85 232.00,281.07 237.20,279.83 242.70,270.73 248.50,261.43 259.40,253.37 270.40,247.59 281.40,237.98 292.50,232.91 303.40,226.92 314.70,217.00 325.50,217.00 336.50,217.00"/>
<circle cx="209.20" cy="312.07" r="1.75" fill="#a2a2a2"/>
<circle cx="215.30" cy="312.07" r="1.75" fill="#a2a2a2"/>
<circle cx="226.60" cy="289.85" r="1.75" fill="#a2a2a2"/>
<circle cx="232.00" cy="281.07" r="1.75" fill="#a2a2a2"/>
<circle cx="237.20" cy="279.83" r="1.75" fill="#a2a2a2"/>
<circle cx="242.70" cy="270.73" r="1.75" fill="#a2a2a2"/>
<circle cx="248.50" cy="261.43" r="1.75" fill="#a2a2a2"/>
<circle cx="259.40" cy="253.37" r="1.75" fill="#a2a2a2"/>
<circle cx="270.40" cy="247.59" r="1.75" fill="#a2a2a2"/>
<circle cx="281.40" cy="237.98" r="1.75" fill="#a2a2a2"/>
<circle cx="292.50" cy="232.91" r="1.75" fill="#a2a2a2"/>
<circle cx="303.40" cy="226.92" r="1.75" fill="#a2a2a2"/>
<circle cx="314.70" cy="217.00" r="1.75" fill="#a2a2a2"/>
<circle cx="325.50" cy="217.00" r="1.75" fill="#a2a2a2"/>
<circle cx="336.50" cy="217.00" r="1.75" fill="#a2a2a2"/>
<text x="315.00" y="213.20" font-size="9.0" text-anchor="middle" font-weight="bold" fill="#231f20" letter-spacing="0.8">**</text>
<text x="326.10" y="213.20" font-size="9.0" text-anchor="middle" font-weight="bold" fill="#231f20" letter-spacing="0.8">**</text>
<text x="337.20" y="213.20" font-size="9.0" text-anchor="middle" font-weight="bold" fill="#231f20" letter-spacing="0.8">**</text>
<text x="342.6" y="219.0" font-size="7.2" fill="#231f20"><tspan font-style="italic">n</tspan> = 20</text>
<text x="342.6" y="230.6" font-size="7.2" fill="#231f20"><tspan font-style="italic">n</tspan> = 20</text>
<line x1="215.60" y1="209.60" x2="229.00" y2="209.60" stroke="#2a2a2a" stroke-width="0.9"/>
<circle cx="222.3" cy="209.6" r="1.5" fill="#2a2a2a"/>
<text x="229.80" y="212.00" font-size="7.45" text-anchor="start" fill="#231f20">Kitaake</text>
<line x1="215.60" y1="222.90" x2="229.00" y2="222.90" stroke="#a4a4a4" stroke-width="0.9"/>
<path d="M222.30,221.00 L224.20,222.90 L222.30,224.80 L220.40,222.90 Z" fill="#a4a4a4"/>
<text x="229.80" y="225.30" font-size="7.45" text-anchor="start" fill="#231f20">DHD3-OE3</text>
<line x1="389.60" y1="196.90" x2="389.60" y2="323.10" stroke="#231f20" stroke-width="1"/>
<line x1="389.60" y1="197.40" x2="391.40" y2="197.00" stroke="#231f20" stroke-width="0.9"/>
<line x1="389.10" y1="322.60" x2="519.60" y2="322.60" stroke="#231f20" stroke-width="1"/>
<line x1="389.60" y1="322.60" x2="391.60" y2="322.60" stroke="#231f20" stroke-width="0.8"/>
<text x="382.00" y="325.10" font-size="7.2" text-anchor="end" fill="#231f20">0</text>
<line x1="389.60" y1="301.73" x2="391.60" y2="301.73" stroke="#231f20" stroke-width="0.8"/>
<text x="382.00" y="304.23" font-size="7.2" text-anchor="end" fill="#231f20">2</text>
<line x1="389.60" y1="280.87" x2="391.60" y2="280.87" stroke="#231f20" stroke-width="0.8"/>
<text x="382.00" y="283.37" font-size="7.2" text-anchor="end" fill="#231f20">4</text>
<line x1="389.60" y1="260.00" x2="391.60" y2="260.00" stroke="#231f20" stroke-width="0.8"/>
<text x="382.00" y="262.50" font-size="7.2" text-anchor="end" fill="#231f20">6</text>
<line x1="389.60" y1="239.13" x2="391.60" y2="239.13" stroke="#231f20" stroke-width="0.8"/>
<text x="382.00" y="241.63" font-size="7.2" text-anchor="end" fill="#231f20">8</text>
<line x1="389.60" y1="218.27" x2="391.60" y2="218.27" stroke="#231f20" stroke-width="0.8"/>
<text x="382.00" y="220.77" font-size="7.2" text-anchor="end" fill="#231f20">10</text>
<line x1="389.60" y1="197.40" x2="391.60" y2="197.40" stroke="#231f20" stroke-width="0.8"/>
<text x="382.00" y="199.90" font-size="7.2" text-anchor="end" fill="#231f20">12</text>
<text x="390.00" y="335.20" font-size="7.2" text-anchor="middle" fill="#231f20">3</text>
<line x1="410.20" y1="320.80" x2="410.20" y2="322.60" stroke="#231f20" stroke-width="0.8"/>
<text x="410.60" y="335.20" font-size="7.2" text-anchor="middle" fill="#231f20">15</text>
<line x1="430.80" y1="320.80" x2="430.80" y2="322.60" stroke="#231f20" stroke-width="0.8"/>
<text x="431.20" y="335.20" font-size="7.2" text-anchor="middle" fill="#231f20">27</text>
<line x1="451.40" y1="320.80" x2="451.40" y2="322.60" stroke="#231f20" stroke-width="0.8"/>
<text x="451.80" y="335.20" font-size="7.2" text-anchor="middle" fill="#231f20">39</text>
<line x1="472.00" y1="320.80" x2="472.00" y2="322.60" stroke="#231f20" stroke-width="0.8"/>
<text x="472.40" y="335.20" font-size="7.2" text-anchor="middle" fill="#231f20">51</text>
<line x1="492.60" y1="320.80" x2="492.60" y2="322.60" stroke="#231f20" stroke-width="0.8"/>
<text x="493.00" y="335.20" font-size="7.2" text-anchor="middle" fill="#231f20">63</text>
<line x1="513.20" y1="320.80" x2="513.20" y2="322.60" stroke="#231f20" stroke-width="0.8"/>
<text x="513.60" y="335.20" font-size="7.2" text-anchor="middle" fill="#231f20">75</text>
<text x="454.00" y="346.00" font-size="7.35" text-anchor="middle" fill="#231f20">Days after sowing</text>
<text transform="translate(369.3,262.5) rotate(-90)" font-size="7.55" text-anchor="middle" fill="#231f20">No. of leaves</text>
<text x="460.00" y="196.40" font-size="7.2" text-anchor="middle" font-weight="bold" fill="#000">SD</text>
<polyline fill="none" stroke="#2a2a2a" stroke-width="1.9" points="477.90,229.64 488.20,229.64 498.40,229.64 508.80,229.64 519.10,229.64"/>
<polyline fill="none" stroke="#2a2a2a" stroke-width="1.0" points="389.60,312.17 405.70,291.30 410.50,280.87 415.50,280.87 421.00,270.43 426.20,270.43 436.20,260.00 446.50,246.96 457.30,239.34 467.50,231.00 477.90,229.64 488.20,229.64 498.40,229.64 508.80,229.64 519.10,229.64"/>
<circle cx="389.60" cy="312.17" r="1.5" fill="#2a2a2a"/>
<circle cx="405.70" cy="291.30" r="1.5" fill="#2a2a2a"/>
<circle cx="410.50" cy="280.87" r="1.5" fill="#2a2a2a"/>
<circle cx="415.50" cy="280.87" r="1.5" fill="#2a2a2a"/>
<circle cx="421.00" cy="270.43" r="1.5" fill="#2a2a2a"/>
<circle cx="426.20" cy="270.43" r="1.5" fill="#2a2a2a"/>
<circle cx="436.20" cy="260.00" r="1.5" fill="#2a2a2a"/>
<circle cx="446.50" cy="246.96" r="1.5" fill="#2a2a2a"/>
<circle cx="457.30" cy="239.34" r="1.5" fill="#2a2a2a"/>
<circle cx="467.50" cy="231.00" r="1.5" fill="#2a2a2a"/>
<circle cx="477.90" cy="229.64" r="1.5" fill="#2a2a2a"/>
<circle cx="488.20" cy="229.64" r="1.5" fill="#2a2a2a"/>
<circle cx="498.40" cy="229.64" r="1.5" fill="#2a2a2a"/>
<circle cx="508.80" cy="229.64" r="1.5" fill="#2a2a2a"/>
<circle cx="519.10" cy="229.64" r="1.5" fill="#2a2a2a"/>
<polyline fill="none" stroke="#a0a0a0" stroke-width="1.2" points="389.60,312.17 405.70,291.30 410.50,280.87 415.50,280.87 421.00,272.31 426.20,270.43 436.20,260.00 446.50,246.96 457.30,234.44 467.50,235.06 477.90,227.87 488.20,217.33 498.40,217.33 508.80,217.33 519.10,217.33"/>
<rect x="388.20" y="310.77" width="2.8" height="2.8" fill="#cfcfcf" stroke="#8a8a8a" stroke-width="0.7"/>
<rect x="404.30" y="289.90" width="2.8" height="2.8" fill="#cfcfcf" stroke="#8a8a8a" stroke-width="0.7"/>
<rect x="409.10" y="279.47" width="2.8" height="2.8" fill="#cfcfcf" stroke="#8a8a8a" stroke-width="0.7"/>
<rect x="414.10" y="279.47" width="2.8" height="2.8" fill="#cfcfcf" stroke="#8a8a8a" stroke-width="0.7"/>
<rect x="419.60" y="270.91" width="2.8" height="2.8" fill="#cfcfcf" stroke="#8a8a8a" stroke-width="0.7"/>
<rect x="424.80" y="269.03" width="2.8" height="2.8" fill="#cfcfcf" stroke="#8a8a8a" stroke-width="0.7"/>
<rect x="434.80" y="258.60" width="2.8" height="2.8" fill="#cfcfcf" stroke="#8a8a8a" stroke-width="0.7"/>
<rect x="445.10" y="245.56" width="2.8" height="2.8" fill="#cfcfcf" stroke="#8a8a8a" stroke-width="0.7"/>
<rect x="455.90" y="233.04" width="2.8" height="2.8" fill="#cfcfcf" stroke="#8a8a8a" stroke-width="0.7"/>
<rect x="466.10" y="233.66" width="2.8" height="2.8" fill="#cfcfcf" stroke="#8a8a8a" stroke-width="0.7"/>
<rect x="476.50" y="226.47" width="2.8" height="2.8" fill="#cfcfcf" stroke="#8a8a8a" stroke-width="0.7"/>
<rect x="486.80" y="215.93" width="2.8" height="2.8" fill="#cfcfcf" stroke="#8a8a8a" stroke-width="0.7"/>
<rect x="497.00" y="215.93" width="2.8" height="2.8" fill="#cfcfcf" stroke="#8a8a8a" stroke-width="0.7"/>
<rect x="507.40" y="215.93" width="2.8" height="2.8" fill="#cfcfcf" stroke="#8a8a8a" stroke-width="0.7"/>
<rect x="517.70" y="215.93" width="2.8" height="2.8" fill="#cfcfcf" stroke="#8a8a8a" stroke-width="0.7"/>
<text x="488.60" y="214.00" font-size="9.0" text-anchor="middle" font-weight="bold" fill="#231f20" letter-spacing="0.8">**</text>
<text x="498.80" y="214.00" font-size="9.0" text-anchor="middle" font-weight="bold" fill="#231f20" letter-spacing="0.8">**</text>
<text x="509.20" y="214.00" font-size="9.0" text-anchor="middle" font-weight="bold" fill="#231f20" letter-spacing="0.8">**</text>
<text x="519.50" y="214.00" font-size="9.0" text-anchor="middle" font-weight="bold" fill="#231f20" letter-spacing="0.8">**</text>
<text x="523.6" y="220.2" font-size="7.2" fill="#231f20"><tspan font-style="italic">n</tspan> = 19</text>
<text x="523.6" y="232.2" font-size="7.2" fill="#231f20"><tspan font-style="italic">n</tspan> = 19</text>
<line x1="394.80" y1="209.60" x2="408.30" y2="209.60" stroke="#2a2a2a" stroke-width="0.9"/>
<circle cx="401.4" cy="209.6" r="1.5" fill="#2a2a2a"/>
<text x="409.20" y="212.00" font-size="7.45" text-anchor="start" fill="#231f20">Kitaake</text>
<line x1="394.80" y1="224.30" x2="408.30" y2="224.30" stroke="#a0a0a0" stroke-width="0.9"/>
<rect x="400.1" y="223.0" width="2.6" height="2.6" fill="#cfcfcf" stroke="#8a8a8a" stroke-width="0.6"/>
<text x="409.20" y="226.60" font-size="7.45" text-anchor="start" fill="#231f20">DHD3-OE3</text>
</svg>
</body></html>
